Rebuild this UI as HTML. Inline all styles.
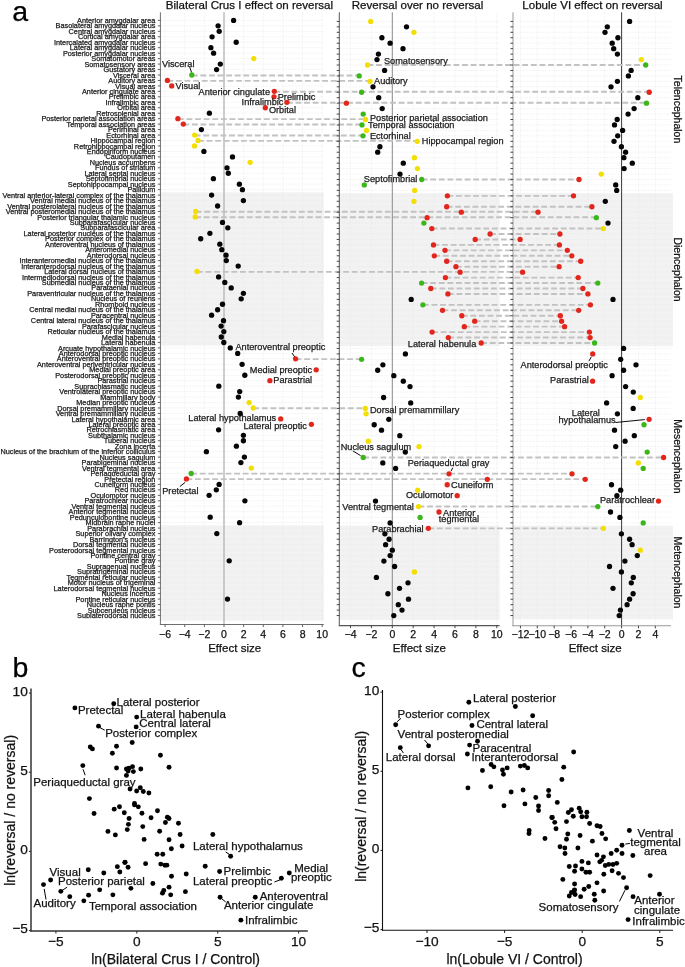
<!DOCTYPE html>
<html><head><meta charset="utf-8"><title>Figure</title>
<style>html,body{margin:0;padding:0;background:#fff;}body{width:685px;height:967px;overflow:hidden;}svg{display:block;will-change:transform;}</style>
</head><body>
<svg width="685" height="967" viewBox="0 0 685 967" font-family='"Liberation Sans", sans-serif'>
<style>text{stroke:currentColor;stroke-width:0.25px;paint-order:stroke;}</style>
<rect x="0" y="0" width="685" height="967" fill="#ffffff"/>
<rect x="160.40" y="192.36" width="163.40" height="153.25" fill="#f2f2f2"/>
<rect x="160.40" y="525.36" width="163.40" height="95.34" fill="#f2f2f2"/>
<line x1="160.40" y1="20.40" x2="323.80" y2="20.40" stroke="#e9e9e9" stroke-width="0.5" stroke-dasharray="2.2 1"/>
<line x1="160.40" y1="25.86" x2="323.80" y2="25.86" stroke="#e9e9e9" stroke-width="0.5" stroke-dasharray="2.2 1"/>
<line x1="160.40" y1="31.32" x2="323.80" y2="31.32" stroke="#e9e9e9" stroke-width="0.5" stroke-dasharray="2.2 1"/>
<line x1="160.40" y1="36.78" x2="323.80" y2="36.78" stroke="#e9e9e9" stroke-width="0.5" stroke-dasharray="2.2 1"/>
<line x1="160.40" y1="42.24" x2="323.80" y2="42.24" stroke="#e9e9e9" stroke-width="0.5" stroke-dasharray="2.2 1"/>
<line x1="160.40" y1="47.69" x2="323.80" y2="47.69" stroke="#e9e9e9" stroke-width="0.5" stroke-dasharray="2.2 1"/>
<line x1="160.40" y1="53.15" x2="323.80" y2="53.15" stroke="#e9e9e9" stroke-width="0.5" stroke-dasharray="2.2 1"/>
<line x1="160.40" y1="58.61" x2="323.80" y2="58.61" stroke="#e9e9e9" stroke-width="0.5" stroke-dasharray="2.2 1"/>
<line x1="160.40" y1="64.07" x2="323.80" y2="64.07" stroke="#e9e9e9" stroke-width="0.5" stroke-dasharray="2.2 1"/>
<line x1="160.40" y1="69.53" x2="323.80" y2="69.53" stroke="#e9e9e9" stroke-width="0.5" stroke-dasharray="2.2 1"/>
<line x1="160.40" y1="74.99" x2="323.80" y2="74.99" stroke="#e9e9e9" stroke-width="0.5" stroke-dasharray="2.2 1"/>
<line x1="160.40" y1="80.45" x2="323.80" y2="80.45" stroke="#e9e9e9" stroke-width="0.5" stroke-dasharray="2.2 1"/>
<line x1="160.40" y1="85.91" x2="323.80" y2="85.91" stroke="#e9e9e9" stroke-width="0.5" stroke-dasharray="2.2 1"/>
<line x1="160.40" y1="91.37" x2="323.80" y2="91.37" stroke="#e9e9e9" stroke-width="0.5" stroke-dasharray="2.2 1"/>
<line x1="160.40" y1="96.83" x2="323.80" y2="96.83" stroke="#e9e9e9" stroke-width="0.5" stroke-dasharray="2.2 1"/>
<line x1="160.40" y1="102.28" x2="323.80" y2="102.28" stroke="#e9e9e9" stroke-width="0.5" stroke-dasharray="2.2 1"/>
<line x1="160.40" y1="107.74" x2="323.80" y2="107.74" stroke="#e9e9e9" stroke-width="0.5" stroke-dasharray="2.2 1"/>
<line x1="160.40" y1="113.20" x2="323.80" y2="113.20" stroke="#e9e9e9" stroke-width="0.5" stroke-dasharray="2.2 1"/>
<line x1="160.40" y1="118.66" x2="323.80" y2="118.66" stroke="#e9e9e9" stroke-width="0.5" stroke-dasharray="2.2 1"/>
<line x1="160.40" y1="124.12" x2="323.80" y2="124.12" stroke="#e9e9e9" stroke-width="0.5" stroke-dasharray="2.2 1"/>
<line x1="160.40" y1="129.58" x2="323.80" y2="129.58" stroke="#e9e9e9" stroke-width="0.5" stroke-dasharray="2.2 1"/>
<line x1="160.40" y1="135.04" x2="323.80" y2="135.04" stroke="#e9e9e9" stroke-width="0.5" stroke-dasharray="2.2 1"/>
<line x1="160.40" y1="140.50" x2="323.80" y2="140.50" stroke="#e9e9e9" stroke-width="0.5" stroke-dasharray="2.2 1"/>
<line x1="160.40" y1="145.96" x2="323.80" y2="145.96" stroke="#e9e9e9" stroke-width="0.5" stroke-dasharray="2.2 1"/>
<line x1="160.40" y1="151.42" x2="323.80" y2="151.42" stroke="#e9e9e9" stroke-width="0.5" stroke-dasharray="2.2 1"/>
<line x1="160.40" y1="156.88" x2="323.80" y2="156.88" stroke="#e9e9e9" stroke-width="0.5" stroke-dasharray="2.2 1"/>
<line x1="160.40" y1="162.33" x2="323.80" y2="162.33" stroke="#e9e9e9" stroke-width="0.5" stroke-dasharray="2.2 1"/>
<line x1="160.40" y1="167.79" x2="323.80" y2="167.79" stroke="#e9e9e9" stroke-width="0.5" stroke-dasharray="2.2 1"/>
<line x1="160.40" y1="173.25" x2="323.80" y2="173.25" stroke="#e9e9e9" stroke-width="0.5" stroke-dasharray="2.2 1"/>
<line x1="160.40" y1="178.71" x2="323.80" y2="178.71" stroke="#e9e9e9" stroke-width="0.5" stroke-dasharray="2.2 1"/>
<line x1="160.40" y1="184.17" x2="323.80" y2="184.17" stroke="#e9e9e9" stroke-width="0.5" stroke-dasharray="2.2 1"/>
<line x1="160.40" y1="189.63" x2="323.80" y2="189.63" stroke="#e9e9e9" stroke-width="0.5" stroke-dasharray="2.2 1"/>
<line x1="160.40" y1="195.09" x2="323.80" y2="195.09" stroke="#e9e9e9" stroke-width="0.5" stroke-dasharray="2.2 1"/>
<line x1="160.40" y1="200.55" x2="323.80" y2="200.55" stroke="#e9e9e9" stroke-width="0.5" stroke-dasharray="2.2 1"/>
<line x1="160.40" y1="206.01" x2="323.80" y2="206.01" stroke="#e9e9e9" stroke-width="0.5" stroke-dasharray="2.2 1"/>
<line x1="160.40" y1="211.47" x2="323.80" y2="211.47" stroke="#e9e9e9" stroke-width="0.5" stroke-dasharray="2.2 1"/>
<line x1="160.40" y1="216.92" x2="323.80" y2="216.92" stroke="#e9e9e9" stroke-width="0.5" stroke-dasharray="2.2 1"/>
<line x1="160.40" y1="222.38" x2="323.80" y2="222.38" stroke="#e9e9e9" stroke-width="0.5" stroke-dasharray="2.2 1"/>
<line x1="160.40" y1="227.84" x2="323.80" y2="227.84" stroke="#e9e9e9" stroke-width="0.5" stroke-dasharray="2.2 1"/>
<line x1="160.40" y1="233.30" x2="323.80" y2="233.30" stroke="#e9e9e9" stroke-width="0.5" stroke-dasharray="2.2 1"/>
<line x1="160.40" y1="238.76" x2="323.80" y2="238.76" stroke="#e9e9e9" stroke-width="0.5" stroke-dasharray="2.2 1"/>
<line x1="160.40" y1="244.22" x2="323.80" y2="244.22" stroke="#e9e9e9" stroke-width="0.5" stroke-dasharray="2.2 1"/>
<line x1="160.40" y1="249.68" x2="323.80" y2="249.68" stroke="#e9e9e9" stroke-width="0.5" stroke-dasharray="2.2 1"/>
<line x1="160.40" y1="255.14" x2="323.80" y2="255.14" stroke="#e9e9e9" stroke-width="0.5" stroke-dasharray="2.2 1"/>
<line x1="160.40" y1="260.60" x2="323.80" y2="260.60" stroke="#e9e9e9" stroke-width="0.5" stroke-dasharray="2.2 1"/>
<line x1="160.40" y1="266.05" x2="323.80" y2="266.05" stroke="#e9e9e9" stroke-width="0.5" stroke-dasharray="2.2 1"/>
<line x1="160.40" y1="271.51" x2="323.80" y2="271.51" stroke="#e9e9e9" stroke-width="0.5" stroke-dasharray="2.2 1"/>
<line x1="160.40" y1="276.97" x2="323.80" y2="276.97" stroke="#e9e9e9" stroke-width="0.5" stroke-dasharray="2.2 1"/>
<line x1="160.40" y1="282.43" x2="323.80" y2="282.43" stroke="#e9e9e9" stroke-width="0.5" stroke-dasharray="2.2 1"/>
<line x1="160.40" y1="287.89" x2="323.80" y2="287.89" stroke="#e9e9e9" stroke-width="0.5" stroke-dasharray="2.2 1"/>
<line x1="160.40" y1="293.35" x2="323.80" y2="293.35" stroke="#e9e9e9" stroke-width="0.5" stroke-dasharray="2.2 1"/>
<line x1="160.40" y1="298.81" x2="323.80" y2="298.81" stroke="#e9e9e9" stroke-width="0.5" stroke-dasharray="2.2 1"/>
<line x1="160.40" y1="304.27" x2="323.80" y2="304.27" stroke="#e9e9e9" stroke-width="0.5" stroke-dasharray="2.2 1"/>
<line x1="160.40" y1="309.73" x2="323.80" y2="309.73" stroke="#e9e9e9" stroke-width="0.5" stroke-dasharray="2.2 1"/>
<line x1="160.40" y1="315.19" x2="323.80" y2="315.19" stroke="#e9e9e9" stroke-width="0.5" stroke-dasharray="2.2 1"/>
<line x1="160.40" y1="320.64" x2="323.80" y2="320.64" stroke="#e9e9e9" stroke-width="0.5" stroke-dasharray="2.2 1"/>
<line x1="160.40" y1="326.10" x2="323.80" y2="326.10" stroke="#e9e9e9" stroke-width="0.5" stroke-dasharray="2.2 1"/>
<line x1="160.40" y1="331.56" x2="323.80" y2="331.56" stroke="#e9e9e9" stroke-width="0.5" stroke-dasharray="2.2 1"/>
<line x1="160.40" y1="337.02" x2="323.80" y2="337.02" stroke="#e9e9e9" stroke-width="0.5" stroke-dasharray="2.2 1"/>
<line x1="160.40" y1="342.48" x2="323.80" y2="342.48" stroke="#e9e9e9" stroke-width="0.5" stroke-dasharray="2.2 1"/>
<line x1="160.40" y1="347.94" x2="323.80" y2="347.94" stroke="#e9e9e9" stroke-width="0.5" stroke-dasharray="2.2 1"/>
<line x1="160.40" y1="353.40" x2="323.80" y2="353.40" stroke="#e9e9e9" stroke-width="0.5" stroke-dasharray="2.2 1"/>
<line x1="160.40" y1="358.86" x2="323.80" y2="358.86" stroke="#e9e9e9" stroke-width="0.5" stroke-dasharray="2.2 1"/>
<line x1="160.40" y1="364.32" x2="323.80" y2="364.32" stroke="#e9e9e9" stroke-width="0.5" stroke-dasharray="2.2 1"/>
<line x1="160.40" y1="369.78" x2="323.80" y2="369.78" stroke="#e9e9e9" stroke-width="0.5" stroke-dasharray="2.2 1"/>
<line x1="160.40" y1="375.23" x2="323.80" y2="375.23" stroke="#e9e9e9" stroke-width="0.5" stroke-dasharray="2.2 1"/>
<line x1="160.40" y1="380.69" x2="323.80" y2="380.69" stroke="#e9e9e9" stroke-width="0.5" stroke-dasharray="2.2 1"/>
<line x1="160.40" y1="386.15" x2="323.80" y2="386.15" stroke="#e9e9e9" stroke-width="0.5" stroke-dasharray="2.2 1"/>
<line x1="160.40" y1="391.61" x2="323.80" y2="391.61" stroke="#e9e9e9" stroke-width="0.5" stroke-dasharray="2.2 1"/>
<line x1="160.40" y1="397.07" x2="323.80" y2="397.07" stroke="#e9e9e9" stroke-width="0.5" stroke-dasharray="2.2 1"/>
<line x1="160.40" y1="402.53" x2="323.80" y2="402.53" stroke="#e9e9e9" stroke-width="0.5" stroke-dasharray="2.2 1"/>
<line x1="160.40" y1="407.99" x2="323.80" y2="407.99" stroke="#e9e9e9" stroke-width="0.5" stroke-dasharray="2.2 1"/>
<line x1="160.40" y1="413.45" x2="323.80" y2="413.45" stroke="#e9e9e9" stroke-width="0.5" stroke-dasharray="2.2 1"/>
<line x1="160.40" y1="418.91" x2="323.80" y2="418.91" stroke="#e9e9e9" stroke-width="0.5" stroke-dasharray="2.2 1"/>
<line x1="160.40" y1="424.37" x2="323.80" y2="424.37" stroke="#e9e9e9" stroke-width="0.5" stroke-dasharray="2.2 1"/>
<line x1="160.40" y1="429.82" x2="323.80" y2="429.82" stroke="#e9e9e9" stroke-width="0.5" stroke-dasharray="2.2 1"/>
<line x1="160.40" y1="435.28" x2="323.80" y2="435.28" stroke="#e9e9e9" stroke-width="0.5" stroke-dasharray="2.2 1"/>
<line x1="160.40" y1="440.74" x2="323.80" y2="440.74" stroke="#e9e9e9" stroke-width="0.5" stroke-dasharray="2.2 1"/>
<line x1="160.40" y1="446.20" x2="323.80" y2="446.20" stroke="#e9e9e9" stroke-width="0.5" stroke-dasharray="2.2 1"/>
<line x1="160.40" y1="451.66" x2="323.80" y2="451.66" stroke="#e9e9e9" stroke-width="0.5" stroke-dasharray="2.2 1"/>
<line x1="160.40" y1="457.12" x2="323.80" y2="457.12" stroke="#e9e9e9" stroke-width="0.5" stroke-dasharray="2.2 1"/>
<line x1="160.40" y1="462.58" x2="323.80" y2="462.58" stroke="#e9e9e9" stroke-width="0.5" stroke-dasharray="2.2 1"/>
<line x1="160.40" y1="468.04" x2="323.80" y2="468.04" stroke="#e9e9e9" stroke-width="0.5" stroke-dasharray="2.2 1"/>
<line x1="160.40" y1="473.50" x2="323.80" y2="473.50" stroke="#e9e9e9" stroke-width="0.5" stroke-dasharray="2.2 1"/>
<line x1="160.40" y1="478.96" x2="323.80" y2="478.96" stroke="#e9e9e9" stroke-width="0.5" stroke-dasharray="2.2 1"/>
<line x1="160.40" y1="484.41" x2="323.80" y2="484.41" stroke="#e9e9e9" stroke-width="0.5" stroke-dasharray="2.2 1"/>
<line x1="160.40" y1="489.87" x2="323.80" y2="489.87" stroke="#e9e9e9" stroke-width="0.5" stroke-dasharray="2.2 1"/>
<line x1="160.40" y1="495.33" x2="323.80" y2="495.33" stroke="#e9e9e9" stroke-width="0.5" stroke-dasharray="2.2 1"/>
<line x1="160.40" y1="500.79" x2="323.80" y2="500.79" stroke="#e9e9e9" stroke-width="0.5" stroke-dasharray="2.2 1"/>
<line x1="160.40" y1="506.25" x2="323.80" y2="506.25" stroke="#e9e9e9" stroke-width="0.5" stroke-dasharray="2.2 1"/>
<line x1="160.40" y1="511.71" x2="323.80" y2="511.71" stroke="#e9e9e9" stroke-width="0.5" stroke-dasharray="2.2 1"/>
<line x1="160.40" y1="517.17" x2="323.80" y2="517.17" stroke="#e9e9e9" stroke-width="0.5" stroke-dasharray="2.2 1"/>
<line x1="160.40" y1="522.63" x2="323.80" y2="522.63" stroke="#e9e9e9" stroke-width="0.5" stroke-dasharray="2.2 1"/>
<line x1="160.40" y1="528.09" x2="323.80" y2="528.09" stroke="#e9e9e9" stroke-width="0.5" stroke-dasharray="2.2 1"/>
<line x1="160.40" y1="533.55" x2="323.80" y2="533.55" stroke="#e9e9e9" stroke-width="0.5" stroke-dasharray="2.2 1"/>
<line x1="160.40" y1="539.00" x2="323.80" y2="539.00" stroke="#e9e9e9" stroke-width="0.5" stroke-dasharray="2.2 1"/>
<line x1="160.40" y1="544.46" x2="323.80" y2="544.46" stroke="#e9e9e9" stroke-width="0.5" stroke-dasharray="2.2 1"/>
<line x1="160.40" y1="549.92" x2="323.80" y2="549.92" stroke="#e9e9e9" stroke-width="0.5" stroke-dasharray="2.2 1"/>
<line x1="160.40" y1="555.38" x2="323.80" y2="555.38" stroke="#e9e9e9" stroke-width="0.5" stroke-dasharray="2.2 1"/>
<line x1="160.40" y1="560.84" x2="323.80" y2="560.84" stroke="#e9e9e9" stroke-width="0.5" stroke-dasharray="2.2 1"/>
<line x1="160.40" y1="566.30" x2="323.80" y2="566.30" stroke="#e9e9e9" stroke-width="0.5" stroke-dasharray="2.2 1"/>
<line x1="160.40" y1="571.76" x2="323.80" y2="571.76" stroke="#e9e9e9" stroke-width="0.5" stroke-dasharray="2.2 1"/>
<line x1="160.40" y1="577.22" x2="323.80" y2="577.22" stroke="#e9e9e9" stroke-width="0.5" stroke-dasharray="2.2 1"/>
<line x1="160.40" y1="582.68" x2="323.80" y2="582.68" stroke="#e9e9e9" stroke-width="0.5" stroke-dasharray="2.2 1"/>
<line x1="160.40" y1="588.14" x2="323.80" y2="588.14" stroke="#e9e9e9" stroke-width="0.5" stroke-dasharray="2.2 1"/>
<line x1="160.40" y1="593.59" x2="323.80" y2="593.59" stroke="#e9e9e9" stroke-width="0.5" stroke-dasharray="2.2 1"/>
<line x1="160.40" y1="599.05" x2="323.80" y2="599.05" stroke="#e9e9e9" stroke-width="0.5" stroke-dasharray="2.2 1"/>
<line x1="160.40" y1="604.51" x2="323.80" y2="604.51" stroke="#e9e9e9" stroke-width="0.5" stroke-dasharray="2.2 1"/>
<line x1="160.40" y1="609.97" x2="323.80" y2="609.97" stroke="#e9e9e9" stroke-width="0.5" stroke-dasharray="2.2 1"/>
<line x1="160.40" y1="615.43" x2="323.80" y2="615.43" stroke="#e9e9e9" stroke-width="0.5" stroke-dasharray="2.2 1"/>
<line x1="165.08" y1="12.30" x2="165.08" y2="624.50" stroke="#e9e9e9" stroke-width="0.5" stroke-dasharray="2.2 1"/>
<line x1="184.72" y1="12.30" x2="184.72" y2="624.50" stroke="#e9e9e9" stroke-width="0.5" stroke-dasharray="2.2 1"/>
<line x1="204.36" y1="12.30" x2="204.36" y2="624.50" stroke="#e9e9e9" stroke-width="0.5" stroke-dasharray="2.2 1"/>
<line x1="224.00" y1="12.30" x2="224.00" y2="624.50" stroke="#e9e9e9" stroke-width="0.5" stroke-dasharray="2.2 1"/>
<line x1="243.64" y1="12.30" x2="243.64" y2="624.50" stroke="#e9e9e9" stroke-width="0.5" stroke-dasharray="2.2 1"/>
<line x1="263.28" y1="12.30" x2="263.28" y2="624.50" stroke="#e9e9e9" stroke-width="0.5" stroke-dasharray="2.2 1"/>
<line x1="282.92" y1="12.30" x2="282.92" y2="624.50" stroke="#e9e9e9" stroke-width="0.5" stroke-dasharray="2.2 1"/>
<line x1="302.56" y1="12.30" x2="302.56" y2="624.50" stroke="#e9e9e9" stroke-width="0.5" stroke-dasharray="2.2 1"/>
<line x1="322.20" y1="12.30" x2="322.20" y2="624.50" stroke="#e9e9e9" stroke-width="0.5" stroke-dasharray="2.2 1"/>
<line x1="224.00" y1="12.30" x2="224.00" y2="624.50" stroke="#b4b4b4" stroke-width="1.3" />
<rect x="339.30" y="193.11" width="160.30" height="153.03" fill="#f2f2f2"/>
<rect x="339.30" y="525.62" width="160.30" height="94.38" fill="#f2f2f2"/>
<line x1="339.30" y1="21.40" x2="499.60" y2="21.40" stroke="#e9e9e9" stroke-width="0.5" stroke-dasharray="2.2 1"/>
<line x1="339.30" y1="26.85" x2="499.60" y2="26.85" stroke="#e9e9e9" stroke-width="0.5" stroke-dasharray="2.2 1"/>
<line x1="339.30" y1="32.30" x2="499.60" y2="32.30" stroke="#e9e9e9" stroke-width="0.5" stroke-dasharray="2.2 1"/>
<line x1="339.30" y1="37.75" x2="499.60" y2="37.75" stroke="#e9e9e9" stroke-width="0.5" stroke-dasharray="2.2 1"/>
<line x1="339.30" y1="43.20" x2="499.60" y2="43.20" stroke="#e9e9e9" stroke-width="0.5" stroke-dasharray="2.2 1"/>
<line x1="339.30" y1="48.66" x2="499.60" y2="48.66" stroke="#e9e9e9" stroke-width="0.5" stroke-dasharray="2.2 1"/>
<line x1="339.30" y1="54.11" x2="499.60" y2="54.11" stroke="#e9e9e9" stroke-width="0.5" stroke-dasharray="2.2 1"/>
<line x1="339.30" y1="59.56" x2="499.60" y2="59.56" stroke="#e9e9e9" stroke-width="0.5" stroke-dasharray="2.2 1"/>
<line x1="339.30" y1="65.01" x2="499.60" y2="65.01" stroke="#e9e9e9" stroke-width="0.5" stroke-dasharray="2.2 1"/>
<line x1="339.30" y1="70.46" x2="499.60" y2="70.46" stroke="#e9e9e9" stroke-width="0.5" stroke-dasharray="2.2 1"/>
<line x1="339.30" y1="75.91" x2="499.60" y2="75.91" stroke="#e9e9e9" stroke-width="0.5" stroke-dasharray="2.2 1"/>
<line x1="339.30" y1="81.36" x2="499.60" y2="81.36" stroke="#e9e9e9" stroke-width="0.5" stroke-dasharray="2.2 1"/>
<line x1="339.30" y1="86.81" x2="499.60" y2="86.81" stroke="#e9e9e9" stroke-width="0.5" stroke-dasharray="2.2 1"/>
<line x1="339.30" y1="92.26" x2="499.60" y2="92.26" stroke="#e9e9e9" stroke-width="0.5" stroke-dasharray="2.2 1"/>
<line x1="339.30" y1="97.71" x2="499.60" y2="97.71" stroke="#e9e9e9" stroke-width="0.5" stroke-dasharray="2.2 1"/>
<line x1="339.30" y1="103.16" x2="499.60" y2="103.16" stroke="#e9e9e9" stroke-width="0.5" stroke-dasharray="2.2 1"/>
<line x1="339.30" y1="108.62" x2="499.60" y2="108.62" stroke="#e9e9e9" stroke-width="0.5" stroke-dasharray="2.2 1"/>
<line x1="339.30" y1="114.07" x2="499.60" y2="114.07" stroke="#e9e9e9" stroke-width="0.5" stroke-dasharray="2.2 1"/>
<line x1="339.30" y1="119.52" x2="499.60" y2="119.52" stroke="#e9e9e9" stroke-width="0.5" stroke-dasharray="2.2 1"/>
<line x1="339.30" y1="124.97" x2="499.60" y2="124.97" stroke="#e9e9e9" stroke-width="0.5" stroke-dasharray="2.2 1"/>
<line x1="339.30" y1="130.42" x2="499.60" y2="130.42" stroke="#e9e9e9" stroke-width="0.5" stroke-dasharray="2.2 1"/>
<line x1="339.30" y1="135.87" x2="499.60" y2="135.87" stroke="#e9e9e9" stroke-width="0.5" stroke-dasharray="2.2 1"/>
<line x1="339.30" y1="141.32" x2="499.60" y2="141.32" stroke="#e9e9e9" stroke-width="0.5" stroke-dasharray="2.2 1"/>
<line x1="339.30" y1="146.77" x2="499.60" y2="146.77" stroke="#e9e9e9" stroke-width="0.5" stroke-dasharray="2.2 1"/>
<line x1="339.30" y1="152.22" x2="499.60" y2="152.22" stroke="#e9e9e9" stroke-width="0.5" stroke-dasharray="2.2 1"/>
<line x1="339.30" y1="157.67" x2="499.60" y2="157.67" stroke="#e9e9e9" stroke-width="0.5" stroke-dasharray="2.2 1"/>
<line x1="339.30" y1="163.13" x2="499.60" y2="163.13" stroke="#e9e9e9" stroke-width="0.5" stroke-dasharray="2.2 1"/>
<line x1="339.30" y1="168.58" x2="499.60" y2="168.58" stroke="#e9e9e9" stroke-width="0.5" stroke-dasharray="2.2 1"/>
<line x1="339.30" y1="174.03" x2="499.60" y2="174.03" stroke="#e9e9e9" stroke-width="0.5" stroke-dasharray="2.2 1"/>
<line x1="339.30" y1="179.48" x2="499.60" y2="179.48" stroke="#e9e9e9" stroke-width="0.5" stroke-dasharray="2.2 1"/>
<line x1="339.30" y1="184.93" x2="499.60" y2="184.93" stroke="#e9e9e9" stroke-width="0.5" stroke-dasharray="2.2 1"/>
<line x1="339.30" y1="190.38" x2="499.60" y2="190.38" stroke="#e9e9e9" stroke-width="0.5" stroke-dasharray="2.2 1"/>
<line x1="339.30" y1="195.83" x2="499.60" y2="195.83" stroke="#e9e9e9" stroke-width="0.5" stroke-dasharray="2.2 1"/>
<line x1="339.30" y1="201.28" x2="499.60" y2="201.28" stroke="#e9e9e9" stroke-width="0.5" stroke-dasharray="2.2 1"/>
<line x1="339.30" y1="206.73" x2="499.60" y2="206.73" stroke="#e9e9e9" stroke-width="0.5" stroke-dasharray="2.2 1"/>
<line x1="339.30" y1="212.19" x2="499.60" y2="212.19" stroke="#e9e9e9" stroke-width="0.5" stroke-dasharray="2.2 1"/>
<line x1="339.30" y1="217.64" x2="499.60" y2="217.64" stroke="#e9e9e9" stroke-width="0.5" stroke-dasharray="2.2 1"/>
<line x1="339.30" y1="223.09" x2="499.60" y2="223.09" stroke="#e9e9e9" stroke-width="0.5" stroke-dasharray="2.2 1"/>
<line x1="339.30" y1="228.54" x2="499.60" y2="228.54" stroke="#e9e9e9" stroke-width="0.5" stroke-dasharray="2.2 1"/>
<line x1="339.30" y1="233.99" x2="499.60" y2="233.99" stroke="#e9e9e9" stroke-width="0.5" stroke-dasharray="2.2 1"/>
<line x1="339.30" y1="239.44" x2="499.60" y2="239.44" stroke="#e9e9e9" stroke-width="0.5" stroke-dasharray="2.2 1"/>
<line x1="339.30" y1="244.89" x2="499.60" y2="244.89" stroke="#e9e9e9" stroke-width="0.5" stroke-dasharray="2.2 1"/>
<line x1="339.30" y1="250.34" x2="499.60" y2="250.34" stroke="#e9e9e9" stroke-width="0.5" stroke-dasharray="2.2 1"/>
<line x1="339.30" y1="255.79" x2="499.60" y2="255.79" stroke="#e9e9e9" stroke-width="0.5" stroke-dasharray="2.2 1"/>
<line x1="339.30" y1="261.24" x2="499.60" y2="261.24" stroke="#e9e9e9" stroke-width="0.5" stroke-dasharray="2.2 1"/>
<line x1="339.30" y1="266.69" x2="499.60" y2="266.69" stroke="#e9e9e9" stroke-width="0.5" stroke-dasharray="2.2 1"/>
<line x1="339.30" y1="272.15" x2="499.60" y2="272.15" stroke="#e9e9e9" stroke-width="0.5" stroke-dasharray="2.2 1"/>
<line x1="339.30" y1="277.60" x2="499.60" y2="277.60" stroke="#e9e9e9" stroke-width="0.5" stroke-dasharray="2.2 1"/>
<line x1="339.30" y1="283.05" x2="499.60" y2="283.05" stroke="#e9e9e9" stroke-width="0.5" stroke-dasharray="2.2 1"/>
<line x1="339.30" y1="288.50" x2="499.60" y2="288.50" stroke="#e9e9e9" stroke-width="0.5" stroke-dasharray="2.2 1"/>
<line x1="339.30" y1="293.95" x2="499.60" y2="293.95" stroke="#e9e9e9" stroke-width="0.5" stroke-dasharray="2.2 1"/>
<line x1="339.30" y1="299.40" x2="499.60" y2="299.40" stroke="#e9e9e9" stroke-width="0.5" stroke-dasharray="2.2 1"/>
<line x1="339.30" y1="304.85" x2="499.60" y2="304.85" stroke="#e9e9e9" stroke-width="0.5" stroke-dasharray="2.2 1"/>
<line x1="339.30" y1="310.30" x2="499.60" y2="310.30" stroke="#e9e9e9" stroke-width="0.5" stroke-dasharray="2.2 1"/>
<line x1="339.30" y1="315.75" x2="499.60" y2="315.75" stroke="#e9e9e9" stroke-width="0.5" stroke-dasharray="2.2 1"/>
<line x1="339.30" y1="321.20" x2="499.60" y2="321.20" stroke="#e9e9e9" stroke-width="0.5" stroke-dasharray="2.2 1"/>
<line x1="339.30" y1="326.66" x2="499.60" y2="326.66" stroke="#e9e9e9" stroke-width="0.5" stroke-dasharray="2.2 1"/>
<line x1="339.30" y1="332.11" x2="499.60" y2="332.11" stroke="#e9e9e9" stroke-width="0.5" stroke-dasharray="2.2 1"/>
<line x1="339.30" y1="337.56" x2="499.60" y2="337.56" stroke="#e9e9e9" stroke-width="0.5" stroke-dasharray="2.2 1"/>
<line x1="339.30" y1="343.01" x2="499.60" y2="343.01" stroke="#e9e9e9" stroke-width="0.5" stroke-dasharray="2.2 1"/>
<line x1="339.30" y1="348.46" x2="499.60" y2="348.46" stroke="#e9e9e9" stroke-width="0.5" stroke-dasharray="2.2 1"/>
<line x1="339.30" y1="353.91" x2="499.60" y2="353.91" stroke="#e9e9e9" stroke-width="0.5" stroke-dasharray="2.2 1"/>
<line x1="339.30" y1="359.36" x2="499.60" y2="359.36" stroke="#e9e9e9" stroke-width="0.5" stroke-dasharray="2.2 1"/>
<line x1="339.30" y1="364.81" x2="499.60" y2="364.81" stroke="#e9e9e9" stroke-width="0.5" stroke-dasharray="2.2 1"/>
<line x1="339.30" y1="370.26" x2="499.60" y2="370.26" stroke="#e9e9e9" stroke-width="0.5" stroke-dasharray="2.2 1"/>
<line x1="339.30" y1="375.71" x2="499.60" y2="375.71" stroke="#e9e9e9" stroke-width="0.5" stroke-dasharray="2.2 1"/>
<line x1="339.30" y1="381.17" x2="499.60" y2="381.17" stroke="#e9e9e9" stroke-width="0.5" stroke-dasharray="2.2 1"/>
<line x1="339.30" y1="386.62" x2="499.60" y2="386.62" stroke="#e9e9e9" stroke-width="0.5" stroke-dasharray="2.2 1"/>
<line x1="339.30" y1="392.07" x2="499.60" y2="392.07" stroke="#e9e9e9" stroke-width="0.5" stroke-dasharray="2.2 1"/>
<line x1="339.30" y1="397.52" x2="499.60" y2="397.52" stroke="#e9e9e9" stroke-width="0.5" stroke-dasharray="2.2 1"/>
<line x1="339.30" y1="402.97" x2="499.60" y2="402.97" stroke="#e9e9e9" stroke-width="0.5" stroke-dasharray="2.2 1"/>
<line x1="339.30" y1="408.42" x2="499.60" y2="408.42" stroke="#e9e9e9" stroke-width="0.5" stroke-dasharray="2.2 1"/>
<line x1="339.30" y1="413.87" x2="499.60" y2="413.87" stroke="#e9e9e9" stroke-width="0.5" stroke-dasharray="2.2 1"/>
<line x1="339.30" y1="419.32" x2="499.60" y2="419.32" stroke="#e9e9e9" stroke-width="0.5" stroke-dasharray="2.2 1"/>
<line x1="339.30" y1="424.77" x2="499.60" y2="424.77" stroke="#e9e9e9" stroke-width="0.5" stroke-dasharray="2.2 1"/>
<line x1="339.30" y1="430.22" x2="499.60" y2="430.22" stroke="#e9e9e9" stroke-width="0.5" stroke-dasharray="2.2 1"/>
<line x1="339.30" y1="435.68" x2="499.60" y2="435.68" stroke="#e9e9e9" stroke-width="0.5" stroke-dasharray="2.2 1"/>
<line x1="339.30" y1="441.13" x2="499.60" y2="441.13" stroke="#e9e9e9" stroke-width="0.5" stroke-dasharray="2.2 1"/>
<line x1="339.30" y1="446.58" x2="499.60" y2="446.58" stroke="#e9e9e9" stroke-width="0.5" stroke-dasharray="2.2 1"/>
<line x1="339.30" y1="452.03" x2="499.60" y2="452.03" stroke="#e9e9e9" stroke-width="0.5" stroke-dasharray="2.2 1"/>
<line x1="339.30" y1="457.48" x2="499.60" y2="457.48" stroke="#e9e9e9" stroke-width="0.5" stroke-dasharray="2.2 1"/>
<line x1="339.30" y1="462.93" x2="499.60" y2="462.93" stroke="#e9e9e9" stroke-width="0.5" stroke-dasharray="2.2 1"/>
<line x1="339.30" y1="468.38" x2="499.60" y2="468.38" stroke="#e9e9e9" stroke-width="0.5" stroke-dasharray="2.2 1"/>
<line x1="339.30" y1="473.83" x2="499.60" y2="473.83" stroke="#e9e9e9" stroke-width="0.5" stroke-dasharray="2.2 1"/>
<line x1="339.30" y1="479.28" x2="499.60" y2="479.28" stroke="#e9e9e9" stroke-width="0.5" stroke-dasharray="2.2 1"/>
<line x1="339.30" y1="484.73" x2="499.60" y2="484.73" stroke="#e9e9e9" stroke-width="0.5" stroke-dasharray="2.2 1"/>
<line x1="339.30" y1="490.19" x2="499.60" y2="490.19" stroke="#e9e9e9" stroke-width="0.5" stroke-dasharray="2.2 1"/>
<line x1="339.30" y1="495.64" x2="499.60" y2="495.64" stroke="#e9e9e9" stroke-width="0.5" stroke-dasharray="2.2 1"/>
<line x1="339.30" y1="501.09" x2="499.60" y2="501.09" stroke="#e9e9e9" stroke-width="0.5" stroke-dasharray="2.2 1"/>
<line x1="339.30" y1="506.54" x2="499.60" y2="506.54" stroke="#e9e9e9" stroke-width="0.5" stroke-dasharray="2.2 1"/>
<line x1="339.30" y1="511.99" x2="499.60" y2="511.99" stroke="#e9e9e9" stroke-width="0.5" stroke-dasharray="2.2 1"/>
<line x1="339.30" y1="517.44" x2="499.60" y2="517.44" stroke="#e9e9e9" stroke-width="0.5" stroke-dasharray="2.2 1"/>
<line x1="339.30" y1="522.89" x2="499.60" y2="522.89" stroke="#e9e9e9" stroke-width="0.5" stroke-dasharray="2.2 1"/>
<line x1="339.30" y1="528.34" x2="499.60" y2="528.34" stroke="#e9e9e9" stroke-width="0.5" stroke-dasharray="2.2 1"/>
<line x1="339.30" y1="533.79" x2="499.60" y2="533.79" stroke="#e9e9e9" stroke-width="0.5" stroke-dasharray="2.2 1"/>
<line x1="339.30" y1="539.24" x2="499.60" y2="539.24" stroke="#e9e9e9" stroke-width="0.5" stroke-dasharray="2.2 1"/>
<line x1="339.30" y1="544.70" x2="499.60" y2="544.70" stroke="#e9e9e9" stroke-width="0.5" stroke-dasharray="2.2 1"/>
<line x1="339.30" y1="550.15" x2="499.60" y2="550.15" stroke="#e9e9e9" stroke-width="0.5" stroke-dasharray="2.2 1"/>
<line x1="339.30" y1="555.60" x2="499.60" y2="555.60" stroke="#e9e9e9" stroke-width="0.5" stroke-dasharray="2.2 1"/>
<line x1="339.30" y1="561.05" x2="499.60" y2="561.05" stroke="#e9e9e9" stroke-width="0.5" stroke-dasharray="2.2 1"/>
<line x1="339.30" y1="566.50" x2="499.60" y2="566.50" stroke="#e9e9e9" stroke-width="0.5" stroke-dasharray="2.2 1"/>
<line x1="339.30" y1="571.95" x2="499.60" y2="571.95" stroke="#e9e9e9" stroke-width="0.5" stroke-dasharray="2.2 1"/>
<line x1="339.30" y1="577.40" x2="499.60" y2="577.40" stroke="#e9e9e9" stroke-width="0.5" stroke-dasharray="2.2 1"/>
<line x1="339.30" y1="582.85" x2="499.60" y2="582.85" stroke="#e9e9e9" stroke-width="0.5" stroke-dasharray="2.2 1"/>
<line x1="339.30" y1="588.30" x2="499.60" y2="588.30" stroke="#e9e9e9" stroke-width="0.5" stroke-dasharray="2.2 1"/>
<line x1="339.30" y1="593.75" x2="499.60" y2="593.75" stroke="#e9e9e9" stroke-width="0.5" stroke-dasharray="2.2 1"/>
<line x1="339.30" y1="599.21" x2="499.60" y2="599.21" stroke="#e9e9e9" stroke-width="0.5" stroke-dasharray="2.2 1"/>
<line x1="339.30" y1="604.66" x2="499.60" y2="604.66" stroke="#e9e9e9" stroke-width="0.5" stroke-dasharray="2.2 1"/>
<line x1="339.30" y1="610.11" x2="499.60" y2="610.11" stroke="#e9e9e9" stroke-width="0.5" stroke-dasharray="2.2 1"/>
<line x1="339.30" y1="615.56" x2="499.60" y2="615.56" stroke="#e9e9e9" stroke-width="0.5" stroke-dasharray="2.2 1"/>
<line x1="350.50" y1="12.30" x2="350.50" y2="625.60" stroke="#e9e9e9" stroke-width="0.5" stroke-dasharray="2.2 1"/>
<line x1="371.40" y1="12.30" x2="371.40" y2="625.60" stroke="#e9e9e9" stroke-width="0.5" stroke-dasharray="2.2 1"/>
<line x1="392.30" y1="12.30" x2="392.30" y2="625.60" stroke="#e9e9e9" stroke-width="0.5" stroke-dasharray="2.2 1"/>
<line x1="413.20" y1="12.30" x2="413.20" y2="625.60" stroke="#e9e9e9" stroke-width="0.5" stroke-dasharray="2.2 1"/>
<line x1="434.10" y1="12.30" x2="434.10" y2="625.60" stroke="#e9e9e9" stroke-width="0.5" stroke-dasharray="2.2 1"/>
<line x1="455.00" y1="12.30" x2="455.00" y2="625.60" stroke="#e9e9e9" stroke-width="0.5" stroke-dasharray="2.2 1"/>
<line x1="475.90" y1="12.30" x2="475.90" y2="625.60" stroke="#e9e9e9" stroke-width="0.5" stroke-dasharray="2.2 1"/>
<line x1="496.80" y1="12.30" x2="496.80" y2="625.60" stroke="#e9e9e9" stroke-width="0.5" stroke-dasharray="2.2 1"/>
<line x1="392.30" y1="12.30" x2="392.30" y2="625.60" stroke="#8a8a8a" stroke-width="1.0" />
<rect x="513.00" y="193.11" width="160.00" height="153.03" fill="#f2f2f2"/>
<rect x="513.00" y="525.62" width="160.00" height="93.78" fill="#f2f2f2"/>
<line x1="513.00" y1="21.40" x2="671.00" y2="21.40" stroke="#e9e9e9" stroke-width="0.5" stroke-dasharray="2.2 1"/>
<line x1="513.00" y1="26.85" x2="671.00" y2="26.85" stroke="#e9e9e9" stroke-width="0.5" stroke-dasharray="2.2 1"/>
<line x1="513.00" y1="32.30" x2="671.00" y2="32.30" stroke="#e9e9e9" stroke-width="0.5" stroke-dasharray="2.2 1"/>
<line x1="513.00" y1="37.75" x2="671.00" y2="37.75" stroke="#e9e9e9" stroke-width="0.5" stroke-dasharray="2.2 1"/>
<line x1="513.00" y1="43.20" x2="671.00" y2="43.20" stroke="#e9e9e9" stroke-width="0.5" stroke-dasharray="2.2 1"/>
<line x1="513.00" y1="48.66" x2="671.00" y2="48.66" stroke="#e9e9e9" stroke-width="0.5" stroke-dasharray="2.2 1"/>
<line x1="513.00" y1="54.11" x2="671.00" y2="54.11" stroke="#e9e9e9" stroke-width="0.5" stroke-dasharray="2.2 1"/>
<line x1="513.00" y1="59.56" x2="671.00" y2="59.56" stroke="#e9e9e9" stroke-width="0.5" stroke-dasharray="2.2 1"/>
<line x1="513.00" y1="65.01" x2="671.00" y2="65.01" stroke="#e9e9e9" stroke-width="0.5" stroke-dasharray="2.2 1"/>
<line x1="513.00" y1="70.46" x2="671.00" y2="70.46" stroke="#e9e9e9" stroke-width="0.5" stroke-dasharray="2.2 1"/>
<line x1="513.00" y1="75.91" x2="671.00" y2="75.91" stroke="#e9e9e9" stroke-width="0.5" stroke-dasharray="2.2 1"/>
<line x1="513.00" y1="81.36" x2="671.00" y2="81.36" stroke="#e9e9e9" stroke-width="0.5" stroke-dasharray="2.2 1"/>
<line x1="513.00" y1="86.81" x2="671.00" y2="86.81" stroke="#e9e9e9" stroke-width="0.5" stroke-dasharray="2.2 1"/>
<line x1="513.00" y1="92.26" x2="671.00" y2="92.26" stroke="#e9e9e9" stroke-width="0.5" stroke-dasharray="2.2 1"/>
<line x1="513.00" y1="97.71" x2="671.00" y2="97.71" stroke="#e9e9e9" stroke-width="0.5" stroke-dasharray="2.2 1"/>
<line x1="513.00" y1="103.16" x2="671.00" y2="103.16" stroke="#e9e9e9" stroke-width="0.5" stroke-dasharray="2.2 1"/>
<line x1="513.00" y1="108.62" x2="671.00" y2="108.62" stroke="#e9e9e9" stroke-width="0.5" stroke-dasharray="2.2 1"/>
<line x1="513.00" y1="114.07" x2="671.00" y2="114.07" stroke="#e9e9e9" stroke-width="0.5" stroke-dasharray="2.2 1"/>
<line x1="513.00" y1="119.52" x2="671.00" y2="119.52" stroke="#e9e9e9" stroke-width="0.5" stroke-dasharray="2.2 1"/>
<line x1="513.00" y1="124.97" x2="671.00" y2="124.97" stroke="#e9e9e9" stroke-width="0.5" stroke-dasharray="2.2 1"/>
<line x1="513.00" y1="130.42" x2="671.00" y2="130.42" stroke="#e9e9e9" stroke-width="0.5" stroke-dasharray="2.2 1"/>
<line x1="513.00" y1="135.87" x2="671.00" y2="135.87" stroke="#e9e9e9" stroke-width="0.5" stroke-dasharray="2.2 1"/>
<line x1="513.00" y1="141.32" x2="671.00" y2="141.32" stroke="#e9e9e9" stroke-width="0.5" stroke-dasharray="2.2 1"/>
<line x1="513.00" y1="146.77" x2="671.00" y2="146.77" stroke="#e9e9e9" stroke-width="0.5" stroke-dasharray="2.2 1"/>
<line x1="513.00" y1="152.22" x2="671.00" y2="152.22" stroke="#e9e9e9" stroke-width="0.5" stroke-dasharray="2.2 1"/>
<line x1="513.00" y1="157.67" x2="671.00" y2="157.67" stroke="#e9e9e9" stroke-width="0.5" stroke-dasharray="2.2 1"/>
<line x1="513.00" y1="163.13" x2="671.00" y2="163.13" stroke="#e9e9e9" stroke-width="0.5" stroke-dasharray="2.2 1"/>
<line x1="513.00" y1="168.58" x2="671.00" y2="168.58" stroke="#e9e9e9" stroke-width="0.5" stroke-dasharray="2.2 1"/>
<line x1="513.00" y1="174.03" x2="671.00" y2="174.03" stroke="#e9e9e9" stroke-width="0.5" stroke-dasharray="2.2 1"/>
<line x1="513.00" y1="179.48" x2="671.00" y2="179.48" stroke="#e9e9e9" stroke-width="0.5" stroke-dasharray="2.2 1"/>
<line x1="513.00" y1="184.93" x2="671.00" y2="184.93" stroke="#e9e9e9" stroke-width="0.5" stroke-dasharray="2.2 1"/>
<line x1="513.00" y1="190.38" x2="671.00" y2="190.38" stroke="#e9e9e9" stroke-width="0.5" stroke-dasharray="2.2 1"/>
<line x1="513.00" y1="195.83" x2="671.00" y2="195.83" stroke="#e9e9e9" stroke-width="0.5" stroke-dasharray="2.2 1"/>
<line x1="513.00" y1="201.28" x2="671.00" y2="201.28" stroke="#e9e9e9" stroke-width="0.5" stroke-dasharray="2.2 1"/>
<line x1="513.00" y1="206.73" x2="671.00" y2="206.73" stroke="#e9e9e9" stroke-width="0.5" stroke-dasharray="2.2 1"/>
<line x1="513.00" y1="212.19" x2="671.00" y2="212.19" stroke="#e9e9e9" stroke-width="0.5" stroke-dasharray="2.2 1"/>
<line x1="513.00" y1="217.64" x2="671.00" y2="217.64" stroke="#e9e9e9" stroke-width="0.5" stroke-dasharray="2.2 1"/>
<line x1="513.00" y1="223.09" x2="671.00" y2="223.09" stroke="#e9e9e9" stroke-width="0.5" stroke-dasharray="2.2 1"/>
<line x1="513.00" y1="228.54" x2="671.00" y2="228.54" stroke="#e9e9e9" stroke-width="0.5" stroke-dasharray="2.2 1"/>
<line x1="513.00" y1="233.99" x2="671.00" y2="233.99" stroke="#e9e9e9" stroke-width="0.5" stroke-dasharray="2.2 1"/>
<line x1="513.00" y1="239.44" x2="671.00" y2="239.44" stroke="#e9e9e9" stroke-width="0.5" stroke-dasharray="2.2 1"/>
<line x1="513.00" y1="244.89" x2="671.00" y2="244.89" stroke="#e9e9e9" stroke-width="0.5" stroke-dasharray="2.2 1"/>
<line x1="513.00" y1="250.34" x2="671.00" y2="250.34" stroke="#e9e9e9" stroke-width="0.5" stroke-dasharray="2.2 1"/>
<line x1="513.00" y1="255.79" x2="671.00" y2="255.79" stroke="#e9e9e9" stroke-width="0.5" stroke-dasharray="2.2 1"/>
<line x1="513.00" y1="261.24" x2="671.00" y2="261.24" stroke="#e9e9e9" stroke-width="0.5" stroke-dasharray="2.2 1"/>
<line x1="513.00" y1="266.69" x2="671.00" y2="266.69" stroke="#e9e9e9" stroke-width="0.5" stroke-dasharray="2.2 1"/>
<line x1="513.00" y1="272.15" x2="671.00" y2="272.15" stroke="#e9e9e9" stroke-width="0.5" stroke-dasharray="2.2 1"/>
<line x1="513.00" y1="277.60" x2="671.00" y2="277.60" stroke="#e9e9e9" stroke-width="0.5" stroke-dasharray="2.2 1"/>
<line x1="513.00" y1="283.05" x2="671.00" y2="283.05" stroke="#e9e9e9" stroke-width="0.5" stroke-dasharray="2.2 1"/>
<line x1="513.00" y1="288.50" x2="671.00" y2="288.50" stroke="#e9e9e9" stroke-width="0.5" stroke-dasharray="2.2 1"/>
<line x1="513.00" y1="293.95" x2="671.00" y2="293.95" stroke="#e9e9e9" stroke-width="0.5" stroke-dasharray="2.2 1"/>
<line x1="513.00" y1="299.40" x2="671.00" y2="299.40" stroke="#e9e9e9" stroke-width="0.5" stroke-dasharray="2.2 1"/>
<line x1="513.00" y1="304.85" x2="671.00" y2="304.85" stroke="#e9e9e9" stroke-width="0.5" stroke-dasharray="2.2 1"/>
<line x1="513.00" y1="310.30" x2="671.00" y2="310.30" stroke="#e9e9e9" stroke-width="0.5" stroke-dasharray="2.2 1"/>
<line x1="513.00" y1="315.75" x2="671.00" y2="315.75" stroke="#e9e9e9" stroke-width="0.5" stroke-dasharray="2.2 1"/>
<line x1="513.00" y1="321.20" x2="671.00" y2="321.20" stroke="#e9e9e9" stroke-width="0.5" stroke-dasharray="2.2 1"/>
<line x1="513.00" y1="326.66" x2="671.00" y2="326.66" stroke="#e9e9e9" stroke-width="0.5" stroke-dasharray="2.2 1"/>
<line x1="513.00" y1="332.11" x2="671.00" y2="332.11" stroke="#e9e9e9" stroke-width="0.5" stroke-dasharray="2.2 1"/>
<line x1="513.00" y1="337.56" x2="671.00" y2="337.56" stroke="#e9e9e9" stroke-width="0.5" stroke-dasharray="2.2 1"/>
<line x1="513.00" y1="343.01" x2="671.00" y2="343.01" stroke="#e9e9e9" stroke-width="0.5" stroke-dasharray="2.2 1"/>
<line x1="513.00" y1="348.46" x2="671.00" y2="348.46" stroke="#e9e9e9" stroke-width="0.5" stroke-dasharray="2.2 1"/>
<line x1="513.00" y1="353.91" x2="671.00" y2="353.91" stroke="#e9e9e9" stroke-width="0.5" stroke-dasharray="2.2 1"/>
<line x1="513.00" y1="359.36" x2="671.00" y2="359.36" stroke="#e9e9e9" stroke-width="0.5" stroke-dasharray="2.2 1"/>
<line x1="513.00" y1="364.81" x2="671.00" y2="364.81" stroke="#e9e9e9" stroke-width="0.5" stroke-dasharray="2.2 1"/>
<line x1="513.00" y1="370.26" x2="671.00" y2="370.26" stroke="#e9e9e9" stroke-width="0.5" stroke-dasharray="2.2 1"/>
<line x1="513.00" y1="375.71" x2="671.00" y2="375.71" stroke="#e9e9e9" stroke-width="0.5" stroke-dasharray="2.2 1"/>
<line x1="513.00" y1="381.17" x2="671.00" y2="381.17" stroke="#e9e9e9" stroke-width="0.5" stroke-dasharray="2.2 1"/>
<line x1="513.00" y1="386.62" x2="671.00" y2="386.62" stroke="#e9e9e9" stroke-width="0.5" stroke-dasharray="2.2 1"/>
<line x1="513.00" y1="392.07" x2="671.00" y2="392.07" stroke="#e9e9e9" stroke-width="0.5" stroke-dasharray="2.2 1"/>
<line x1="513.00" y1="397.52" x2="671.00" y2="397.52" stroke="#e9e9e9" stroke-width="0.5" stroke-dasharray="2.2 1"/>
<line x1="513.00" y1="402.97" x2="671.00" y2="402.97" stroke="#e9e9e9" stroke-width="0.5" stroke-dasharray="2.2 1"/>
<line x1="513.00" y1="408.42" x2="671.00" y2="408.42" stroke="#e9e9e9" stroke-width="0.5" stroke-dasharray="2.2 1"/>
<line x1="513.00" y1="413.87" x2="671.00" y2="413.87" stroke="#e9e9e9" stroke-width="0.5" stroke-dasharray="2.2 1"/>
<line x1="513.00" y1="419.32" x2="671.00" y2="419.32" stroke="#e9e9e9" stroke-width="0.5" stroke-dasharray="2.2 1"/>
<line x1="513.00" y1="424.77" x2="671.00" y2="424.77" stroke="#e9e9e9" stroke-width="0.5" stroke-dasharray="2.2 1"/>
<line x1="513.00" y1="430.22" x2="671.00" y2="430.22" stroke="#e9e9e9" stroke-width="0.5" stroke-dasharray="2.2 1"/>
<line x1="513.00" y1="435.68" x2="671.00" y2="435.68" stroke="#e9e9e9" stroke-width="0.5" stroke-dasharray="2.2 1"/>
<line x1="513.00" y1="441.13" x2="671.00" y2="441.13" stroke="#e9e9e9" stroke-width="0.5" stroke-dasharray="2.2 1"/>
<line x1="513.00" y1="446.58" x2="671.00" y2="446.58" stroke="#e9e9e9" stroke-width="0.5" stroke-dasharray="2.2 1"/>
<line x1="513.00" y1="452.03" x2="671.00" y2="452.03" stroke="#e9e9e9" stroke-width="0.5" stroke-dasharray="2.2 1"/>
<line x1="513.00" y1="457.48" x2="671.00" y2="457.48" stroke="#e9e9e9" stroke-width="0.5" stroke-dasharray="2.2 1"/>
<line x1="513.00" y1="462.93" x2="671.00" y2="462.93" stroke="#e9e9e9" stroke-width="0.5" stroke-dasharray="2.2 1"/>
<line x1="513.00" y1="468.38" x2="671.00" y2="468.38" stroke="#e9e9e9" stroke-width="0.5" stroke-dasharray="2.2 1"/>
<line x1="513.00" y1="473.83" x2="671.00" y2="473.83" stroke="#e9e9e9" stroke-width="0.5" stroke-dasharray="2.2 1"/>
<line x1="513.00" y1="479.28" x2="671.00" y2="479.28" stroke="#e9e9e9" stroke-width="0.5" stroke-dasharray="2.2 1"/>
<line x1="513.00" y1="484.73" x2="671.00" y2="484.73" stroke="#e9e9e9" stroke-width="0.5" stroke-dasharray="2.2 1"/>
<line x1="513.00" y1="490.19" x2="671.00" y2="490.19" stroke="#e9e9e9" stroke-width="0.5" stroke-dasharray="2.2 1"/>
<line x1="513.00" y1="495.64" x2="671.00" y2="495.64" stroke="#e9e9e9" stroke-width="0.5" stroke-dasharray="2.2 1"/>
<line x1="513.00" y1="501.09" x2="671.00" y2="501.09" stroke="#e9e9e9" stroke-width="0.5" stroke-dasharray="2.2 1"/>
<line x1="513.00" y1="506.54" x2="671.00" y2="506.54" stroke="#e9e9e9" stroke-width="0.5" stroke-dasharray="2.2 1"/>
<line x1="513.00" y1="511.99" x2="671.00" y2="511.99" stroke="#e9e9e9" stroke-width="0.5" stroke-dasharray="2.2 1"/>
<line x1="513.00" y1="517.44" x2="671.00" y2="517.44" stroke="#e9e9e9" stroke-width="0.5" stroke-dasharray="2.2 1"/>
<line x1="513.00" y1="522.89" x2="671.00" y2="522.89" stroke="#e9e9e9" stroke-width="0.5" stroke-dasharray="2.2 1"/>
<line x1="513.00" y1="528.34" x2="671.00" y2="528.34" stroke="#e9e9e9" stroke-width="0.5" stroke-dasharray="2.2 1"/>
<line x1="513.00" y1="533.79" x2="671.00" y2="533.79" stroke="#e9e9e9" stroke-width="0.5" stroke-dasharray="2.2 1"/>
<line x1="513.00" y1="539.24" x2="671.00" y2="539.24" stroke="#e9e9e9" stroke-width="0.5" stroke-dasharray="2.2 1"/>
<line x1="513.00" y1="544.70" x2="671.00" y2="544.70" stroke="#e9e9e9" stroke-width="0.5" stroke-dasharray="2.2 1"/>
<line x1="513.00" y1="550.15" x2="671.00" y2="550.15" stroke="#e9e9e9" stroke-width="0.5" stroke-dasharray="2.2 1"/>
<line x1="513.00" y1="555.60" x2="671.00" y2="555.60" stroke="#e9e9e9" stroke-width="0.5" stroke-dasharray="2.2 1"/>
<line x1="513.00" y1="561.05" x2="671.00" y2="561.05" stroke="#e9e9e9" stroke-width="0.5" stroke-dasharray="2.2 1"/>
<line x1="513.00" y1="566.50" x2="671.00" y2="566.50" stroke="#e9e9e9" stroke-width="0.5" stroke-dasharray="2.2 1"/>
<line x1="513.00" y1="571.95" x2="671.00" y2="571.95" stroke="#e9e9e9" stroke-width="0.5" stroke-dasharray="2.2 1"/>
<line x1="513.00" y1="577.40" x2="671.00" y2="577.40" stroke="#e9e9e9" stroke-width="0.5" stroke-dasharray="2.2 1"/>
<line x1="513.00" y1="582.85" x2="671.00" y2="582.85" stroke="#e9e9e9" stroke-width="0.5" stroke-dasharray="2.2 1"/>
<line x1="513.00" y1="588.30" x2="671.00" y2="588.30" stroke="#e9e9e9" stroke-width="0.5" stroke-dasharray="2.2 1"/>
<line x1="513.00" y1="593.75" x2="671.00" y2="593.75" stroke="#e9e9e9" stroke-width="0.5" stroke-dasharray="2.2 1"/>
<line x1="513.00" y1="599.21" x2="671.00" y2="599.21" stroke="#e9e9e9" stroke-width="0.5" stroke-dasharray="2.2 1"/>
<line x1="513.00" y1="604.66" x2="671.00" y2="604.66" stroke="#e9e9e9" stroke-width="0.5" stroke-dasharray="2.2 1"/>
<line x1="513.00" y1="610.11" x2="671.00" y2="610.11" stroke="#e9e9e9" stroke-width="0.5" stroke-dasharray="2.2 1"/>
<line x1="513.00" y1="615.56" x2="671.00" y2="615.56" stroke="#e9e9e9" stroke-width="0.5" stroke-dasharray="2.2 1"/>
<line x1="520.44" y1="12.30" x2="520.44" y2="625.80" stroke="#e9e9e9" stroke-width="0.5" stroke-dasharray="2.2 1"/>
<line x1="537.30" y1="12.30" x2="537.30" y2="625.80" stroke="#e9e9e9" stroke-width="0.5" stroke-dasharray="2.2 1"/>
<line x1="554.16" y1="12.30" x2="554.16" y2="625.80" stroke="#e9e9e9" stroke-width="0.5" stroke-dasharray="2.2 1"/>
<line x1="571.02" y1="12.30" x2="571.02" y2="625.80" stroke="#e9e9e9" stroke-width="0.5" stroke-dasharray="2.2 1"/>
<line x1="587.88" y1="12.30" x2="587.88" y2="625.80" stroke="#e9e9e9" stroke-width="0.5" stroke-dasharray="2.2 1"/>
<line x1="604.74" y1="12.30" x2="604.74" y2="625.80" stroke="#e9e9e9" stroke-width="0.5" stroke-dasharray="2.2 1"/>
<line x1="621.60" y1="12.30" x2="621.60" y2="625.80" stroke="#e9e9e9" stroke-width="0.5" stroke-dasharray="2.2 1"/>
<line x1="638.46" y1="12.30" x2="638.46" y2="625.80" stroke="#e9e9e9" stroke-width="0.5" stroke-dasharray="2.2 1"/>
<line x1="655.32" y1="12.30" x2="655.32" y2="625.80" stroke="#e9e9e9" stroke-width="0.5" stroke-dasharray="2.2 1"/>
<line x1="621.60" y1="12.30" x2="621.60" y2="625.80" stroke="#3a3a3a" stroke-width="1.0" />
<line x1="367.50" y1="65.01" x2="645.70" y2="65.01" stroke="#c2c2c2" stroke-width="1.9" stroke-dasharray="5.8 2.8"/>
<line x1="191.80" y1="75.45" x2="359.20" y2="75.45" stroke="#c2c2c2" stroke-width="1.9" stroke-dasharray="5.8 2.8"/>
<line x1="167.40" y1="80.90" x2="370.00" y2="80.90" stroke="#c2c2c2" stroke-width="1.9" stroke-dasharray="5.8 2.8"/>
<line x1="274.30" y1="91.81" x2="649.20" y2="91.81" stroke="#c2c2c2" stroke-width="1.9" stroke-dasharray="5.8 2.8"/>
<line x1="286.90" y1="102.72" x2="646.50" y2="102.72" stroke="#c2c2c2" stroke-width="1.9" stroke-dasharray="5.8 2.8"/>
<line x1="177.90" y1="119.09" x2="365.50" y2="119.09" stroke="#c2c2c2" stroke-width="1.9" stroke-dasharray="5.8 2.8"/>
<line x1="183.30" y1="124.54" x2="362.00" y2="124.54" stroke="#c2c2c2" stroke-width="1.9" stroke-dasharray="5.8 2.8"/>
<line x1="194.70" y1="135.45" x2="363.00" y2="135.45" stroke="#c2c2c2" stroke-width="1.9" stroke-dasharray="5.8 2.8"/>
<line x1="198.00" y1="140.91" x2="417.20" y2="140.91" stroke="#c2c2c2" stroke-width="1.9" stroke-dasharray="5.8 2.8"/>
<line x1="421.70" y1="179.48" x2="579.00" y2="179.48" stroke="#c2c2c2" stroke-width="1.9" stroke-dasharray="5.8 2.8"/>
<line x1="447.40" y1="195.83" x2="573.50" y2="195.83" stroke="#c2c2c2" stroke-width="1.9" stroke-dasharray="5.8 2.8"/>
<line x1="446.70" y1="206.73" x2="591.90" y2="206.73" stroke="#c2c2c2" stroke-width="1.9" stroke-dasharray="5.8 2.8"/>
<line x1="195.70" y1="211.82" x2="538.00" y2="211.82" stroke="#c2c2c2" stroke-width="1.9" stroke-dasharray="5.8 2.8"/>
<line x1="195.20" y1="217.28" x2="596.30" y2="217.28" stroke="#c2c2c2" stroke-width="1.9" stroke-dasharray="5.8 2.8"/>
<line x1="431.80" y1="228.54" x2="603.30" y2="228.54" stroke="#c2c2c2" stroke-width="1.9" stroke-dasharray="5.8 2.8"/>
<line x1="490.10" y1="233.99" x2="559.90" y2="233.99" stroke="#c2c2c2" stroke-width="1.9" stroke-dasharray="5.8 2.8"/>
<line x1="475.20" y1="239.44" x2="520.10" y2="239.44" stroke="#c2c2c2" stroke-width="1.9" stroke-dasharray="5.8 2.8"/>
<line x1="433.50" y1="244.89" x2="559.40" y2="244.89" stroke="#c2c2c2" stroke-width="1.9" stroke-dasharray="5.8 2.8"/>
<line x1="445.00" y1="250.34" x2="567.30" y2="250.34" stroke="#c2c2c2" stroke-width="1.9" stroke-dasharray="5.8 2.8"/>
<line x1="434.30" y1="255.79" x2="571.80" y2="255.79" stroke="#c2c2c2" stroke-width="1.9" stroke-dasharray="5.8 2.8"/>
<line x1="446.70" y1="261.24" x2="580.70" y2="261.24" stroke="#c2c2c2" stroke-width="1.9" stroke-dasharray="5.8 2.8"/>
<line x1="455.90" y1="266.69" x2="559.10" y2="266.69" stroke="#c2c2c2" stroke-width="1.9" stroke-dasharray="5.8 2.8"/>
<line x1="197.00" y1="271.83" x2="522.60" y2="271.83" stroke="#c2c2c2" stroke-width="1.9" stroke-dasharray="5.8 2.8"/>
<line x1="445.40" y1="277.60" x2="578.20" y2="277.60" stroke="#c2c2c2" stroke-width="1.9" stroke-dasharray="5.8 2.8"/>
<line x1="421.60" y1="283.05" x2="597.80" y2="283.05" stroke="#c2c2c2" stroke-width="1.9" stroke-dasharray="5.8 2.8"/>
<line x1="430.80" y1="288.50" x2="582.90" y2="288.50" stroke="#c2c2c2" stroke-width="1.9" stroke-dasharray="5.8 2.8"/>
<line x1="447.90" y1="293.95" x2="587.90" y2="293.95" stroke="#c2c2c2" stroke-width="1.9" stroke-dasharray="5.8 2.8"/>
<line x1="422.90" y1="304.85" x2="590.40" y2="304.85" stroke="#c2c2c2" stroke-width="1.9" stroke-dasharray="5.8 2.8"/>
<line x1="442.50" y1="310.30" x2="578.70" y2="310.30" stroke="#c2c2c2" stroke-width="1.9" stroke-dasharray="5.8 2.8"/>
<line x1="461.80" y1="315.75" x2="560.30" y2="315.75" stroke="#c2c2c2" stroke-width="1.9" stroke-dasharray="5.8 2.8"/>
<line x1="474.70" y1="321.20" x2="561.60" y2="321.20" stroke="#c2c2c2" stroke-width="1.9" stroke-dasharray="5.8 2.8"/>
<line x1="464.30" y1="326.66" x2="564.60" y2="326.66" stroke="#c2c2c2" stroke-width="1.9" stroke-dasharray="5.8 2.8"/>
<line x1="432.10" y1="332.11" x2="589.40" y2="332.11" stroke="#c2c2c2" stroke-width="1.9" stroke-dasharray="5.8 2.8"/>
<line x1="448.30" y1="337.56" x2="590.10" y2="337.56" stroke="#c2c2c2" stroke-width="1.9" stroke-dasharray="5.8 2.8"/>
<line x1="481.20" y1="343.01" x2="594.60" y2="343.01" stroke="#c2c2c2" stroke-width="1.9" stroke-dasharray="5.8 2.8"/>
<line x1="295.60" y1="359.11" x2="361.60" y2="359.11" stroke="#c2c2c2" stroke-width="1.9" stroke-dasharray="5.8 2.8"/>
<line x1="253.30" y1="408.20" x2="365.30" y2="408.20" stroke="#c2c2c2" stroke-width="1.9" stroke-dasharray="5.8 2.8"/>
<line x1="363.20" y1="457.48" x2="663.60" y2="457.48" stroke="#c2c2c2" stroke-width="1.9" stroke-dasharray="5.8 2.8"/>
<line x1="191.20" y1="473.66" x2="572.00" y2="473.66" stroke="#c2c2c2" stroke-width="1.9" stroke-dasharray="5.8 2.8"/>
<line x1="186.40" y1="479.12" x2="585.20" y2="479.12" stroke="#c2c2c2" stroke-width="1.9" stroke-dasharray="5.8 2.8"/>
<line x1="418.50" y1="506.54" x2="597.80" y2="506.54" stroke="#c2c2c2" stroke-width="1.9" stroke-dasharray="5.8 2.8"/>
<line x1="428.30" y1="528.34" x2="603.30" y2="528.34" stroke="#c2c2c2" stroke-width="1.9" stroke-dasharray="5.8 2.8"/>
<line x1="160.40" y1="12.30" x2="160.40" y2="625.00" stroke="#6e6e6e" stroke-width="1.0" />
<line x1="159.90" y1="624.50" x2="323.80" y2="624.50" stroke="#6e6e6e" stroke-width="1.1" />
<line x1="157.80" y1="20.40" x2="160.40" y2="20.40" stroke="#555" stroke-width="0.9" />
<line x1="157.80" y1="25.86" x2="160.40" y2="25.86" stroke="#555" stroke-width="0.9" />
<line x1="157.80" y1="31.32" x2="160.40" y2="31.32" stroke="#555" stroke-width="0.9" />
<line x1="157.80" y1="36.78" x2="160.40" y2="36.78" stroke="#555" stroke-width="0.9" />
<line x1="157.80" y1="42.24" x2="160.40" y2="42.24" stroke="#555" stroke-width="0.9" />
<line x1="157.80" y1="47.69" x2="160.40" y2="47.69" stroke="#555" stroke-width="0.9" />
<line x1="157.80" y1="53.15" x2="160.40" y2="53.15" stroke="#555" stroke-width="0.9" />
<line x1="157.80" y1="58.61" x2="160.40" y2="58.61" stroke="#555" stroke-width="0.9" />
<line x1="157.80" y1="64.07" x2="160.40" y2="64.07" stroke="#555" stroke-width="0.9" />
<line x1="157.80" y1="69.53" x2="160.40" y2="69.53" stroke="#555" stroke-width="0.9" />
<line x1="157.80" y1="74.99" x2="160.40" y2="74.99" stroke="#555" stroke-width="0.9" />
<line x1="157.80" y1="80.45" x2="160.40" y2="80.45" stroke="#555" stroke-width="0.9" />
<line x1="157.80" y1="85.91" x2="160.40" y2="85.91" stroke="#555" stroke-width="0.9" />
<line x1="157.80" y1="91.37" x2="160.40" y2="91.37" stroke="#555" stroke-width="0.9" />
<line x1="157.80" y1="96.83" x2="160.40" y2="96.83" stroke="#555" stroke-width="0.9" />
<line x1="157.80" y1="102.28" x2="160.40" y2="102.28" stroke="#555" stroke-width="0.9" />
<line x1="157.80" y1="107.74" x2="160.40" y2="107.74" stroke="#555" stroke-width="0.9" />
<line x1="157.80" y1="113.20" x2="160.40" y2="113.20" stroke="#555" stroke-width="0.9" />
<line x1="157.80" y1="118.66" x2="160.40" y2="118.66" stroke="#555" stroke-width="0.9" />
<line x1="157.80" y1="124.12" x2="160.40" y2="124.12" stroke="#555" stroke-width="0.9" />
<line x1="157.80" y1="129.58" x2="160.40" y2="129.58" stroke="#555" stroke-width="0.9" />
<line x1="157.80" y1="135.04" x2="160.40" y2="135.04" stroke="#555" stroke-width="0.9" />
<line x1="157.80" y1="140.50" x2="160.40" y2="140.50" stroke="#555" stroke-width="0.9" />
<line x1="157.80" y1="145.96" x2="160.40" y2="145.96" stroke="#555" stroke-width="0.9" />
<line x1="157.80" y1="151.42" x2="160.40" y2="151.42" stroke="#555" stroke-width="0.9" />
<line x1="157.80" y1="156.88" x2="160.40" y2="156.88" stroke="#555" stroke-width="0.9" />
<line x1="157.80" y1="162.33" x2="160.40" y2="162.33" stroke="#555" stroke-width="0.9" />
<line x1="157.80" y1="167.79" x2="160.40" y2="167.79" stroke="#555" stroke-width="0.9" />
<line x1="157.80" y1="173.25" x2="160.40" y2="173.25" stroke="#555" stroke-width="0.9" />
<line x1="157.80" y1="178.71" x2="160.40" y2="178.71" stroke="#555" stroke-width="0.9" />
<line x1="157.80" y1="184.17" x2="160.40" y2="184.17" stroke="#555" stroke-width="0.9" />
<line x1="157.80" y1="189.63" x2="160.40" y2="189.63" stroke="#555" stroke-width="0.9" />
<line x1="157.80" y1="195.09" x2="160.40" y2="195.09" stroke="#555" stroke-width="0.9" />
<line x1="157.80" y1="200.55" x2="160.40" y2="200.55" stroke="#555" stroke-width="0.9" />
<line x1="157.80" y1="206.01" x2="160.40" y2="206.01" stroke="#555" stroke-width="0.9" />
<line x1="157.80" y1="211.47" x2="160.40" y2="211.47" stroke="#555" stroke-width="0.9" />
<line x1="157.80" y1="216.92" x2="160.40" y2="216.92" stroke="#555" stroke-width="0.9" />
<line x1="157.80" y1="222.38" x2="160.40" y2="222.38" stroke="#555" stroke-width="0.9" />
<line x1="157.80" y1="227.84" x2="160.40" y2="227.84" stroke="#555" stroke-width="0.9" />
<line x1="157.80" y1="233.30" x2="160.40" y2="233.30" stroke="#555" stroke-width="0.9" />
<line x1="157.80" y1="238.76" x2="160.40" y2="238.76" stroke="#555" stroke-width="0.9" />
<line x1="157.80" y1="244.22" x2="160.40" y2="244.22" stroke="#555" stroke-width="0.9" />
<line x1="157.80" y1="249.68" x2="160.40" y2="249.68" stroke="#555" stroke-width="0.9" />
<line x1="157.80" y1="255.14" x2="160.40" y2="255.14" stroke="#555" stroke-width="0.9" />
<line x1="157.80" y1="260.60" x2="160.40" y2="260.60" stroke="#555" stroke-width="0.9" />
<line x1="157.80" y1="266.05" x2="160.40" y2="266.05" stroke="#555" stroke-width="0.9" />
<line x1="157.80" y1="271.51" x2="160.40" y2="271.51" stroke="#555" stroke-width="0.9" />
<line x1="157.80" y1="276.97" x2="160.40" y2="276.97" stroke="#555" stroke-width="0.9" />
<line x1="157.80" y1="282.43" x2="160.40" y2="282.43" stroke="#555" stroke-width="0.9" />
<line x1="157.80" y1="287.89" x2="160.40" y2="287.89" stroke="#555" stroke-width="0.9" />
<line x1="157.80" y1="293.35" x2="160.40" y2="293.35" stroke="#555" stroke-width="0.9" />
<line x1="157.80" y1="298.81" x2="160.40" y2="298.81" stroke="#555" stroke-width="0.9" />
<line x1="157.80" y1="304.27" x2="160.40" y2="304.27" stroke="#555" stroke-width="0.9" />
<line x1="157.80" y1="309.73" x2="160.40" y2="309.73" stroke="#555" stroke-width="0.9" />
<line x1="157.80" y1="315.19" x2="160.40" y2="315.19" stroke="#555" stroke-width="0.9" />
<line x1="157.80" y1="320.64" x2="160.40" y2="320.64" stroke="#555" stroke-width="0.9" />
<line x1="157.80" y1="326.10" x2="160.40" y2="326.10" stroke="#555" stroke-width="0.9" />
<line x1="157.80" y1="331.56" x2="160.40" y2="331.56" stroke="#555" stroke-width="0.9" />
<line x1="157.80" y1="337.02" x2="160.40" y2="337.02" stroke="#555" stroke-width="0.9" />
<line x1="157.80" y1="342.48" x2="160.40" y2="342.48" stroke="#555" stroke-width="0.9" />
<line x1="157.80" y1="347.94" x2="160.40" y2="347.94" stroke="#555" stroke-width="0.9" />
<line x1="157.80" y1="353.40" x2="160.40" y2="353.40" stroke="#555" stroke-width="0.9" />
<line x1="157.80" y1="358.86" x2="160.40" y2="358.86" stroke="#555" stroke-width="0.9" />
<line x1="157.80" y1="364.32" x2="160.40" y2="364.32" stroke="#555" stroke-width="0.9" />
<line x1="157.80" y1="369.78" x2="160.40" y2="369.78" stroke="#555" stroke-width="0.9" />
<line x1="157.80" y1="375.23" x2="160.40" y2="375.23" stroke="#555" stroke-width="0.9" />
<line x1="157.80" y1="380.69" x2="160.40" y2="380.69" stroke="#555" stroke-width="0.9" />
<line x1="157.80" y1="386.15" x2="160.40" y2="386.15" stroke="#555" stroke-width="0.9" />
<line x1="157.80" y1="391.61" x2="160.40" y2="391.61" stroke="#555" stroke-width="0.9" />
<line x1="157.80" y1="397.07" x2="160.40" y2="397.07" stroke="#555" stroke-width="0.9" />
<line x1="157.80" y1="402.53" x2="160.40" y2="402.53" stroke="#555" stroke-width="0.9" />
<line x1="157.80" y1="407.99" x2="160.40" y2="407.99" stroke="#555" stroke-width="0.9" />
<line x1="157.80" y1="413.45" x2="160.40" y2="413.45" stroke="#555" stroke-width="0.9" />
<line x1="157.80" y1="418.91" x2="160.40" y2="418.91" stroke="#555" stroke-width="0.9" />
<line x1="157.80" y1="424.37" x2="160.40" y2="424.37" stroke="#555" stroke-width="0.9" />
<line x1="157.80" y1="429.82" x2="160.40" y2="429.82" stroke="#555" stroke-width="0.9" />
<line x1="157.80" y1="435.28" x2="160.40" y2="435.28" stroke="#555" stroke-width="0.9" />
<line x1="157.80" y1="440.74" x2="160.40" y2="440.74" stroke="#555" stroke-width="0.9" />
<line x1="157.80" y1="446.20" x2="160.40" y2="446.20" stroke="#555" stroke-width="0.9" />
<line x1="157.80" y1="451.66" x2="160.40" y2="451.66" stroke="#555" stroke-width="0.9" />
<line x1="157.80" y1="457.12" x2="160.40" y2="457.12" stroke="#555" stroke-width="0.9" />
<line x1="157.80" y1="462.58" x2="160.40" y2="462.58" stroke="#555" stroke-width="0.9" />
<line x1="157.80" y1="468.04" x2="160.40" y2="468.04" stroke="#555" stroke-width="0.9" />
<line x1="157.80" y1="473.50" x2="160.40" y2="473.50" stroke="#555" stroke-width="0.9" />
<line x1="157.80" y1="478.96" x2="160.40" y2="478.96" stroke="#555" stroke-width="0.9" />
<line x1="157.80" y1="484.41" x2="160.40" y2="484.41" stroke="#555" stroke-width="0.9" />
<line x1="157.80" y1="489.87" x2="160.40" y2="489.87" stroke="#555" stroke-width="0.9" />
<line x1="157.80" y1="495.33" x2="160.40" y2="495.33" stroke="#555" stroke-width="0.9" />
<line x1="157.80" y1="500.79" x2="160.40" y2="500.79" stroke="#555" stroke-width="0.9" />
<line x1="157.80" y1="506.25" x2="160.40" y2="506.25" stroke="#555" stroke-width="0.9" />
<line x1="157.80" y1="511.71" x2="160.40" y2="511.71" stroke="#555" stroke-width="0.9" />
<line x1="157.80" y1="517.17" x2="160.40" y2="517.17" stroke="#555" stroke-width="0.9" />
<line x1="157.80" y1="522.63" x2="160.40" y2="522.63" stroke="#555" stroke-width="0.9" />
<line x1="157.80" y1="528.09" x2="160.40" y2="528.09" stroke="#555" stroke-width="0.9" />
<line x1="157.80" y1="533.55" x2="160.40" y2="533.55" stroke="#555" stroke-width="0.9" />
<line x1="157.80" y1="539.00" x2="160.40" y2="539.00" stroke="#555" stroke-width="0.9" />
<line x1="157.80" y1="544.46" x2="160.40" y2="544.46" stroke="#555" stroke-width="0.9" />
<line x1="157.80" y1="549.92" x2="160.40" y2="549.92" stroke="#555" stroke-width="0.9" />
<line x1="157.80" y1="555.38" x2="160.40" y2="555.38" stroke="#555" stroke-width="0.9" />
<line x1="157.80" y1="560.84" x2="160.40" y2="560.84" stroke="#555" stroke-width="0.9" />
<line x1="157.80" y1="566.30" x2="160.40" y2="566.30" stroke="#555" stroke-width="0.9" />
<line x1="157.80" y1="571.76" x2="160.40" y2="571.76" stroke="#555" stroke-width="0.9" />
<line x1="157.80" y1="577.22" x2="160.40" y2="577.22" stroke="#555" stroke-width="0.9" />
<line x1="157.80" y1="582.68" x2="160.40" y2="582.68" stroke="#555" stroke-width="0.9" />
<line x1="157.80" y1="588.14" x2="160.40" y2="588.14" stroke="#555" stroke-width="0.9" />
<line x1="157.80" y1="593.59" x2="160.40" y2="593.59" stroke="#555" stroke-width="0.9" />
<line x1="157.80" y1="599.05" x2="160.40" y2="599.05" stroke="#555" stroke-width="0.9" />
<line x1="157.80" y1="604.51" x2="160.40" y2="604.51" stroke="#555" stroke-width="0.9" />
<line x1="157.80" y1="609.97" x2="160.40" y2="609.97" stroke="#555" stroke-width="0.9" />
<line x1="157.80" y1="615.43" x2="160.40" y2="615.43" stroke="#555" stroke-width="0.9" />
<line x1="165.08" y1="624.50" x2="165.08" y2="627.10" stroke="#555" stroke-width="0.9" />
<text x="165.08" y="637.90" font-size="10.5" text-anchor="middle" fill="#111" color="#111" >−6</text>
<line x1="184.72" y1="624.50" x2="184.72" y2="627.10" stroke="#555" stroke-width="0.9" />
<text x="184.72" y="637.90" font-size="10.5" text-anchor="middle" fill="#111" color="#111" >−4</text>
<line x1="204.36" y1="624.50" x2="204.36" y2="627.10" stroke="#555" stroke-width="0.9" />
<text x="204.36" y="637.90" font-size="10.5" text-anchor="middle" fill="#111" color="#111" >−2</text>
<line x1="224.00" y1="624.50" x2="224.00" y2="627.10" stroke="#555" stroke-width="0.9" />
<text x="224.00" y="637.90" font-size="10.5" text-anchor="middle" fill="#111" color="#111" >0</text>
<line x1="243.64" y1="624.50" x2="243.64" y2="627.10" stroke="#555" stroke-width="0.9" />
<text x="243.64" y="637.90" font-size="10.5" text-anchor="middle" fill="#111" color="#111" >2</text>
<line x1="263.28" y1="624.50" x2="263.28" y2="627.10" stroke="#555" stroke-width="0.9" />
<text x="263.28" y="637.90" font-size="10.5" text-anchor="middle" fill="#111" color="#111" >4</text>
<line x1="282.92" y1="624.50" x2="282.92" y2="627.10" stroke="#555" stroke-width="0.9" />
<text x="282.92" y="637.90" font-size="10.5" text-anchor="middle" fill="#111" color="#111" >6</text>
<line x1="302.56" y1="624.50" x2="302.56" y2="627.10" stroke="#555" stroke-width="0.9" />
<text x="302.56" y="637.90" font-size="10.5" text-anchor="middle" fill="#111" color="#111" >8</text>
<line x1="322.20" y1="624.50" x2="322.20" y2="627.10" stroke="#555" stroke-width="0.9" />
<text x="322.20" y="637.90" font-size="10.5" text-anchor="middle" fill="#111" color="#111" >10</text>
<line x1="339.30" y1="12.30" x2="339.30" y2="626.10" stroke="#555" stroke-width="1.0" />
<line x1="338.80" y1="625.60" x2="499.60" y2="625.60" stroke="#555" stroke-width="1.1" />
<line x1="336.70" y1="21.40" x2="339.30" y2="21.40" stroke="#333" stroke-width="0.9" />
<line x1="336.70" y1="26.85" x2="339.30" y2="26.85" stroke="#333" stroke-width="0.9" />
<line x1="336.70" y1="32.30" x2="339.30" y2="32.30" stroke="#333" stroke-width="0.9" />
<line x1="336.70" y1="37.75" x2="339.30" y2="37.75" stroke="#333" stroke-width="0.9" />
<line x1="336.70" y1="43.20" x2="339.30" y2="43.20" stroke="#333" stroke-width="0.9" />
<line x1="336.70" y1="48.66" x2="339.30" y2="48.66" stroke="#333" stroke-width="0.9" />
<line x1="336.70" y1="54.11" x2="339.30" y2="54.11" stroke="#333" stroke-width="0.9" />
<line x1="336.70" y1="59.56" x2="339.30" y2="59.56" stroke="#333" stroke-width="0.9" />
<line x1="336.70" y1="65.01" x2="339.30" y2="65.01" stroke="#333" stroke-width="0.9" />
<line x1="336.70" y1="70.46" x2="339.30" y2="70.46" stroke="#333" stroke-width="0.9" />
<line x1="336.70" y1="75.91" x2="339.30" y2="75.91" stroke="#333" stroke-width="0.9" />
<line x1="336.70" y1="81.36" x2="339.30" y2="81.36" stroke="#333" stroke-width="0.9" />
<line x1="336.70" y1="86.81" x2="339.30" y2="86.81" stroke="#333" stroke-width="0.9" />
<line x1="336.70" y1="92.26" x2="339.30" y2="92.26" stroke="#333" stroke-width="0.9" />
<line x1="336.70" y1="97.71" x2="339.30" y2="97.71" stroke="#333" stroke-width="0.9" />
<line x1="336.70" y1="103.16" x2="339.30" y2="103.16" stroke="#333" stroke-width="0.9" />
<line x1="336.70" y1="108.62" x2="339.30" y2="108.62" stroke="#333" stroke-width="0.9" />
<line x1="336.70" y1="114.07" x2="339.30" y2="114.07" stroke="#333" stroke-width="0.9" />
<line x1="336.70" y1="119.52" x2="339.30" y2="119.52" stroke="#333" stroke-width="0.9" />
<line x1="336.70" y1="124.97" x2="339.30" y2="124.97" stroke="#333" stroke-width="0.9" />
<line x1="336.70" y1="130.42" x2="339.30" y2="130.42" stroke="#333" stroke-width="0.9" />
<line x1="336.70" y1="135.87" x2="339.30" y2="135.87" stroke="#333" stroke-width="0.9" />
<line x1="336.70" y1="141.32" x2="339.30" y2="141.32" stroke="#333" stroke-width="0.9" />
<line x1="336.70" y1="146.77" x2="339.30" y2="146.77" stroke="#333" stroke-width="0.9" />
<line x1="336.70" y1="152.22" x2="339.30" y2="152.22" stroke="#333" stroke-width="0.9" />
<line x1="336.70" y1="157.67" x2="339.30" y2="157.67" stroke="#333" stroke-width="0.9" />
<line x1="336.70" y1="163.13" x2="339.30" y2="163.13" stroke="#333" stroke-width="0.9" />
<line x1="336.70" y1="168.58" x2="339.30" y2="168.58" stroke="#333" stroke-width="0.9" />
<line x1="336.70" y1="174.03" x2="339.30" y2="174.03" stroke="#333" stroke-width="0.9" />
<line x1="336.70" y1="179.48" x2="339.30" y2="179.48" stroke="#333" stroke-width="0.9" />
<line x1="336.70" y1="184.93" x2="339.30" y2="184.93" stroke="#333" stroke-width="0.9" />
<line x1="336.70" y1="190.38" x2="339.30" y2="190.38" stroke="#333" stroke-width="0.9" />
<line x1="336.70" y1="195.83" x2="339.30" y2="195.83" stroke="#333" stroke-width="0.9" />
<line x1="336.70" y1="201.28" x2="339.30" y2="201.28" stroke="#333" stroke-width="0.9" />
<line x1="336.70" y1="206.73" x2="339.30" y2="206.73" stroke="#333" stroke-width="0.9" />
<line x1="336.70" y1="212.19" x2="339.30" y2="212.19" stroke="#333" stroke-width="0.9" />
<line x1="336.70" y1="217.64" x2="339.30" y2="217.64" stroke="#333" stroke-width="0.9" />
<line x1="336.70" y1="223.09" x2="339.30" y2="223.09" stroke="#333" stroke-width="0.9" />
<line x1="336.70" y1="228.54" x2="339.30" y2="228.54" stroke="#333" stroke-width="0.9" />
<line x1="336.70" y1="233.99" x2="339.30" y2="233.99" stroke="#333" stroke-width="0.9" />
<line x1="336.70" y1="239.44" x2="339.30" y2="239.44" stroke="#333" stroke-width="0.9" />
<line x1="336.70" y1="244.89" x2="339.30" y2="244.89" stroke="#333" stroke-width="0.9" />
<line x1="336.70" y1="250.34" x2="339.30" y2="250.34" stroke="#333" stroke-width="0.9" />
<line x1="336.70" y1="255.79" x2="339.30" y2="255.79" stroke="#333" stroke-width="0.9" />
<line x1="336.70" y1="261.24" x2="339.30" y2="261.24" stroke="#333" stroke-width="0.9" />
<line x1="336.70" y1="266.69" x2="339.30" y2="266.69" stroke="#333" stroke-width="0.9" />
<line x1="336.70" y1="272.15" x2="339.30" y2="272.15" stroke="#333" stroke-width="0.9" />
<line x1="336.70" y1="277.60" x2="339.30" y2="277.60" stroke="#333" stroke-width="0.9" />
<line x1="336.70" y1="283.05" x2="339.30" y2="283.05" stroke="#333" stroke-width="0.9" />
<line x1="336.70" y1="288.50" x2="339.30" y2="288.50" stroke="#333" stroke-width="0.9" />
<line x1="336.70" y1="293.95" x2="339.30" y2="293.95" stroke="#333" stroke-width="0.9" />
<line x1="336.70" y1="299.40" x2="339.30" y2="299.40" stroke="#333" stroke-width="0.9" />
<line x1="336.70" y1="304.85" x2="339.30" y2="304.85" stroke="#333" stroke-width="0.9" />
<line x1="336.70" y1="310.30" x2="339.30" y2="310.30" stroke="#333" stroke-width="0.9" />
<line x1="336.70" y1="315.75" x2="339.30" y2="315.75" stroke="#333" stroke-width="0.9" />
<line x1="336.70" y1="321.20" x2="339.30" y2="321.20" stroke="#333" stroke-width="0.9" />
<line x1="336.70" y1="326.66" x2="339.30" y2="326.66" stroke="#333" stroke-width="0.9" />
<line x1="336.70" y1="332.11" x2="339.30" y2="332.11" stroke="#333" stroke-width="0.9" />
<line x1="336.70" y1="337.56" x2="339.30" y2="337.56" stroke="#333" stroke-width="0.9" />
<line x1="336.70" y1="343.01" x2="339.30" y2="343.01" stroke="#333" stroke-width="0.9" />
<line x1="336.70" y1="348.46" x2="339.30" y2="348.46" stroke="#333" stroke-width="0.9" />
<line x1="336.70" y1="353.91" x2="339.30" y2="353.91" stroke="#333" stroke-width="0.9" />
<line x1="336.70" y1="359.36" x2="339.30" y2="359.36" stroke="#333" stroke-width="0.9" />
<line x1="336.70" y1="364.81" x2="339.30" y2="364.81" stroke="#333" stroke-width="0.9" />
<line x1="336.70" y1="370.26" x2="339.30" y2="370.26" stroke="#333" stroke-width="0.9" />
<line x1="336.70" y1="375.71" x2="339.30" y2="375.71" stroke="#333" stroke-width="0.9" />
<line x1="336.70" y1="381.17" x2="339.30" y2="381.17" stroke="#333" stroke-width="0.9" />
<line x1="336.70" y1="386.62" x2="339.30" y2="386.62" stroke="#333" stroke-width="0.9" />
<line x1="336.70" y1="392.07" x2="339.30" y2="392.07" stroke="#333" stroke-width="0.9" />
<line x1="336.70" y1="397.52" x2="339.30" y2="397.52" stroke="#333" stroke-width="0.9" />
<line x1="336.70" y1="402.97" x2="339.30" y2="402.97" stroke="#333" stroke-width="0.9" />
<line x1="336.70" y1="408.42" x2="339.30" y2="408.42" stroke="#333" stroke-width="0.9" />
<line x1="336.70" y1="413.87" x2="339.30" y2="413.87" stroke="#333" stroke-width="0.9" />
<line x1="336.70" y1="419.32" x2="339.30" y2="419.32" stroke="#333" stroke-width="0.9" />
<line x1="336.70" y1="424.77" x2="339.30" y2="424.77" stroke="#333" stroke-width="0.9" />
<line x1="336.70" y1="430.22" x2="339.30" y2="430.22" stroke="#333" stroke-width="0.9" />
<line x1="336.70" y1="435.68" x2="339.30" y2="435.68" stroke="#333" stroke-width="0.9" />
<line x1="336.70" y1="441.13" x2="339.30" y2="441.13" stroke="#333" stroke-width="0.9" />
<line x1="336.70" y1="446.58" x2="339.30" y2="446.58" stroke="#333" stroke-width="0.9" />
<line x1="336.70" y1="452.03" x2="339.30" y2="452.03" stroke="#333" stroke-width="0.9" />
<line x1="336.70" y1="457.48" x2="339.30" y2="457.48" stroke="#333" stroke-width="0.9" />
<line x1="336.70" y1="462.93" x2="339.30" y2="462.93" stroke="#333" stroke-width="0.9" />
<line x1="336.70" y1="468.38" x2="339.30" y2="468.38" stroke="#333" stroke-width="0.9" />
<line x1="336.70" y1="473.83" x2="339.30" y2="473.83" stroke="#333" stroke-width="0.9" />
<line x1="336.70" y1="479.28" x2="339.30" y2="479.28" stroke="#333" stroke-width="0.9" />
<line x1="336.70" y1="484.73" x2="339.30" y2="484.73" stroke="#333" stroke-width="0.9" />
<line x1="336.70" y1="490.19" x2="339.30" y2="490.19" stroke="#333" stroke-width="0.9" />
<line x1="336.70" y1="495.64" x2="339.30" y2="495.64" stroke="#333" stroke-width="0.9" />
<line x1="336.70" y1="501.09" x2="339.30" y2="501.09" stroke="#333" stroke-width="0.9" />
<line x1="336.70" y1="506.54" x2="339.30" y2="506.54" stroke="#333" stroke-width="0.9" />
<line x1="336.70" y1="511.99" x2="339.30" y2="511.99" stroke="#333" stroke-width="0.9" />
<line x1="336.70" y1="517.44" x2="339.30" y2="517.44" stroke="#333" stroke-width="0.9" />
<line x1="336.70" y1="522.89" x2="339.30" y2="522.89" stroke="#333" stroke-width="0.9" />
<line x1="336.70" y1="528.34" x2="339.30" y2="528.34" stroke="#333" stroke-width="0.9" />
<line x1="336.70" y1="533.79" x2="339.30" y2="533.79" stroke="#333" stroke-width="0.9" />
<line x1="336.70" y1="539.24" x2="339.30" y2="539.24" stroke="#333" stroke-width="0.9" />
<line x1="336.70" y1="544.70" x2="339.30" y2="544.70" stroke="#333" stroke-width="0.9" />
<line x1="336.70" y1="550.15" x2="339.30" y2="550.15" stroke="#333" stroke-width="0.9" />
<line x1="336.70" y1="555.60" x2="339.30" y2="555.60" stroke="#333" stroke-width="0.9" />
<line x1="336.70" y1="561.05" x2="339.30" y2="561.05" stroke="#333" stroke-width="0.9" />
<line x1="336.70" y1="566.50" x2="339.30" y2="566.50" stroke="#333" stroke-width="0.9" />
<line x1="336.70" y1="571.95" x2="339.30" y2="571.95" stroke="#333" stroke-width="0.9" />
<line x1="336.70" y1="577.40" x2="339.30" y2="577.40" stroke="#333" stroke-width="0.9" />
<line x1="336.70" y1="582.85" x2="339.30" y2="582.85" stroke="#333" stroke-width="0.9" />
<line x1="336.70" y1="588.30" x2="339.30" y2="588.30" stroke="#333" stroke-width="0.9" />
<line x1="336.70" y1="593.75" x2="339.30" y2="593.75" stroke="#333" stroke-width="0.9" />
<line x1="336.70" y1="599.21" x2="339.30" y2="599.21" stroke="#333" stroke-width="0.9" />
<line x1="336.70" y1="604.66" x2="339.30" y2="604.66" stroke="#333" stroke-width="0.9" />
<line x1="336.70" y1="610.11" x2="339.30" y2="610.11" stroke="#333" stroke-width="0.9" />
<line x1="336.70" y1="615.56" x2="339.30" y2="615.56" stroke="#333" stroke-width="0.9" />
<line x1="350.50" y1="625.60" x2="350.50" y2="628.20" stroke="#333" stroke-width="0.9" />
<text x="350.50" y="637.90" font-size="10.5" text-anchor="middle" fill="#111" color="#111" >−4</text>
<line x1="371.40" y1="625.60" x2="371.40" y2="628.20" stroke="#333" stroke-width="0.9" />
<text x="371.40" y="637.90" font-size="10.5" text-anchor="middle" fill="#111" color="#111" >−2</text>
<line x1="392.30" y1="625.60" x2="392.30" y2="628.20" stroke="#333" stroke-width="0.9" />
<text x="392.30" y="637.90" font-size="10.5" text-anchor="middle" fill="#111" color="#111" >0</text>
<line x1="413.20" y1="625.60" x2="413.20" y2="628.20" stroke="#333" stroke-width="0.9" />
<text x="413.20" y="637.90" font-size="10.5" text-anchor="middle" fill="#111" color="#111" >2</text>
<line x1="434.10" y1="625.60" x2="434.10" y2="628.20" stroke="#333" stroke-width="0.9" />
<text x="434.10" y="637.90" font-size="10.5" text-anchor="middle" fill="#111" color="#111" >4</text>
<line x1="455.00" y1="625.60" x2="455.00" y2="628.20" stroke="#333" stroke-width="0.9" />
<text x="455.00" y="637.90" font-size="10.5" text-anchor="middle" fill="#111" color="#111" >6</text>
<line x1="475.90" y1="625.60" x2="475.90" y2="628.20" stroke="#333" stroke-width="0.9" />
<text x="475.90" y="637.90" font-size="10.5" text-anchor="middle" fill="#111" color="#111" >8</text>
<line x1="496.80" y1="625.60" x2="496.80" y2="628.20" stroke="#333" stroke-width="0.9" />
<text x="496.80" y="637.90" font-size="10.5" text-anchor="middle" fill="#111" color="#111" >10</text>
<line x1="513.00" y1="12.30" x2="513.00" y2="626.30" stroke="#999" stroke-width="1.0" />
<line x1="512.50" y1="625.80" x2="671.00" y2="625.80" stroke="#999" stroke-width="1.1" />
<line x1="510.40" y1="21.40" x2="513.00" y2="21.40" stroke="#333" stroke-width="0.9" />
<line x1="510.40" y1="26.85" x2="513.00" y2="26.85" stroke="#333" stroke-width="0.9" />
<line x1="510.40" y1="32.30" x2="513.00" y2="32.30" stroke="#333" stroke-width="0.9" />
<line x1="510.40" y1="37.75" x2="513.00" y2="37.75" stroke="#333" stroke-width="0.9" />
<line x1="510.40" y1="43.20" x2="513.00" y2="43.20" stroke="#333" stroke-width="0.9" />
<line x1="510.40" y1="48.66" x2="513.00" y2="48.66" stroke="#333" stroke-width="0.9" />
<line x1="510.40" y1="54.11" x2="513.00" y2="54.11" stroke="#333" stroke-width="0.9" />
<line x1="510.40" y1="59.56" x2="513.00" y2="59.56" stroke="#333" stroke-width="0.9" />
<line x1="510.40" y1="65.01" x2="513.00" y2="65.01" stroke="#333" stroke-width="0.9" />
<line x1="510.40" y1="70.46" x2="513.00" y2="70.46" stroke="#333" stroke-width="0.9" />
<line x1="510.40" y1="75.91" x2="513.00" y2="75.91" stroke="#333" stroke-width="0.9" />
<line x1="510.40" y1="81.36" x2="513.00" y2="81.36" stroke="#333" stroke-width="0.9" />
<line x1="510.40" y1="86.81" x2="513.00" y2="86.81" stroke="#333" stroke-width="0.9" />
<line x1="510.40" y1="92.26" x2="513.00" y2="92.26" stroke="#333" stroke-width="0.9" />
<line x1="510.40" y1="97.71" x2="513.00" y2="97.71" stroke="#333" stroke-width="0.9" />
<line x1="510.40" y1="103.16" x2="513.00" y2="103.16" stroke="#333" stroke-width="0.9" />
<line x1="510.40" y1="108.62" x2="513.00" y2="108.62" stroke="#333" stroke-width="0.9" />
<line x1="510.40" y1="114.07" x2="513.00" y2="114.07" stroke="#333" stroke-width="0.9" />
<line x1="510.40" y1="119.52" x2="513.00" y2="119.52" stroke="#333" stroke-width="0.9" />
<line x1="510.40" y1="124.97" x2="513.00" y2="124.97" stroke="#333" stroke-width="0.9" />
<line x1="510.40" y1="130.42" x2="513.00" y2="130.42" stroke="#333" stroke-width="0.9" />
<line x1="510.40" y1="135.87" x2="513.00" y2="135.87" stroke="#333" stroke-width="0.9" />
<line x1="510.40" y1="141.32" x2="513.00" y2="141.32" stroke="#333" stroke-width="0.9" />
<line x1="510.40" y1="146.77" x2="513.00" y2="146.77" stroke="#333" stroke-width="0.9" />
<line x1="510.40" y1="152.22" x2="513.00" y2="152.22" stroke="#333" stroke-width="0.9" />
<line x1="510.40" y1="157.67" x2="513.00" y2="157.67" stroke="#333" stroke-width="0.9" />
<line x1="510.40" y1="163.13" x2="513.00" y2="163.13" stroke="#333" stroke-width="0.9" />
<line x1="510.40" y1="168.58" x2="513.00" y2="168.58" stroke="#333" stroke-width="0.9" />
<line x1="510.40" y1="174.03" x2="513.00" y2="174.03" stroke="#333" stroke-width="0.9" />
<line x1="510.40" y1="179.48" x2="513.00" y2="179.48" stroke="#333" stroke-width="0.9" />
<line x1="510.40" y1="184.93" x2="513.00" y2="184.93" stroke="#333" stroke-width="0.9" />
<line x1="510.40" y1="190.38" x2="513.00" y2="190.38" stroke="#333" stroke-width="0.9" />
<line x1="510.40" y1="195.83" x2="513.00" y2="195.83" stroke="#333" stroke-width="0.9" />
<line x1="510.40" y1="201.28" x2="513.00" y2="201.28" stroke="#333" stroke-width="0.9" />
<line x1="510.40" y1="206.73" x2="513.00" y2="206.73" stroke="#333" stroke-width="0.9" />
<line x1="510.40" y1="212.19" x2="513.00" y2="212.19" stroke="#333" stroke-width="0.9" />
<line x1="510.40" y1="217.64" x2="513.00" y2="217.64" stroke="#333" stroke-width="0.9" />
<line x1="510.40" y1="223.09" x2="513.00" y2="223.09" stroke="#333" stroke-width="0.9" />
<line x1="510.40" y1="228.54" x2="513.00" y2="228.54" stroke="#333" stroke-width="0.9" />
<line x1="510.40" y1="233.99" x2="513.00" y2="233.99" stroke="#333" stroke-width="0.9" />
<line x1="510.40" y1="239.44" x2="513.00" y2="239.44" stroke="#333" stroke-width="0.9" />
<line x1="510.40" y1="244.89" x2="513.00" y2="244.89" stroke="#333" stroke-width="0.9" />
<line x1="510.40" y1="250.34" x2="513.00" y2="250.34" stroke="#333" stroke-width="0.9" />
<line x1="510.40" y1="255.79" x2="513.00" y2="255.79" stroke="#333" stroke-width="0.9" />
<line x1="510.40" y1="261.24" x2="513.00" y2="261.24" stroke="#333" stroke-width="0.9" />
<line x1="510.40" y1="266.69" x2="513.00" y2="266.69" stroke="#333" stroke-width="0.9" />
<line x1="510.40" y1="272.15" x2="513.00" y2="272.15" stroke="#333" stroke-width="0.9" />
<line x1="510.40" y1="277.60" x2="513.00" y2="277.60" stroke="#333" stroke-width="0.9" />
<line x1="510.40" y1="283.05" x2="513.00" y2="283.05" stroke="#333" stroke-width="0.9" />
<line x1="510.40" y1="288.50" x2="513.00" y2="288.50" stroke="#333" stroke-width="0.9" />
<line x1="510.40" y1="293.95" x2="513.00" y2="293.95" stroke="#333" stroke-width="0.9" />
<line x1="510.40" y1="299.40" x2="513.00" y2="299.40" stroke="#333" stroke-width="0.9" />
<line x1="510.40" y1="304.85" x2="513.00" y2="304.85" stroke="#333" stroke-width="0.9" />
<line x1="510.40" y1="310.30" x2="513.00" y2="310.30" stroke="#333" stroke-width="0.9" />
<line x1="510.40" y1="315.75" x2="513.00" y2="315.75" stroke="#333" stroke-width="0.9" />
<line x1="510.40" y1="321.20" x2="513.00" y2="321.20" stroke="#333" stroke-width="0.9" />
<line x1="510.40" y1="326.66" x2="513.00" y2="326.66" stroke="#333" stroke-width="0.9" />
<line x1="510.40" y1="332.11" x2="513.00" y2="332.11" stroke="#333" stroke-width="0.9" />
<line x1="510.40" y1="337.56" x2="513.00" y2="337.56" stroke="#333" stroke-width="0.9" />
<line x1="510.40" y1="343.01" x2="513.00" y2="343.01" stroke="#333" stroke-width="0.9" />
<line x1="510.40" y1="348.46" x2="513.00" y2="348.46" stroke="#333" stroke-width="0.9" />
<line x1="510.40" y1="353.91" x2="513.00" y2="353.91" stroke="#333" stroke-width="0.9" />
<line x1="510.40" y1="359.36" x2="513.00" y2="359.36" stroke="#333" stroke-width="0.9" />
<line x1="510.40" y1="364.81" x2="513.00" y2="364.81" stroke="#333" stroke-width="0.9" />
<line x1="510.40" y1="370.26" x2="513.00" y2="370.26" stroke="#333" stroke-width="0.9" />
<line x1="510.40" y1="375.71" x2="513.00" y2="375.71" stroke="#333" stroke-width="0.9" />
<line x1="510.40" y1="381.17" x2="513.00" y2="381.17" stroke="#333" stroke-width="0.9" />
<line x1="510.40" y1="386.62" x2="513.00" y2="386.62" stroke="#333" stroke-width="0.9" />
<line x1="510.40" y1="392.07" x2="513.00" y2="392.07" stroke="#333" stroke-width="0.9" />
<line x1="510.40" y1="397.52" x2="513.00" y2="397.52" stroke="#333" stroke-width="0.9" />
<line x1="510.40" y1="402.97" x2="513.00" y2="402.97" stroke="#333" stroke-width="0.9" />
<line x1="510.40" y1="408.42" x2="513.00" y2="408.42" stroke="#333" stroke-width="0.9" />
<line x1="510.40" y1="413.87" x2="513.00" y2="413.87" stroke="#333" stroke-width="0.9" />
<line x1="510.40" y1="419.32" x2="513.00" y2="419.32" stroke="#333" stroke-width="0.9" />
<line x1="510.40" y1="424.77" x2="513.00" y2="424.77" stroke="#333" stroke-width="0.9" />
<line x1="510.40" y1="430.22" x2="513.00" y2="430.22" stroke="#333" stroke-width="0.9" />
<line x1="510.40" y1="435.68" x2="513.00" y2="435.68" stroke="#333" stroke-width="0.9" />
<line x1="510.40" y1="441.13" x2="513.00" y2="441.13" stroke="#333" stroke-width="0.9" />
<line x1="510.40" y1="446.58" x2="513.00" y2="446.58" stroke="#333" stroke-width="0.9" />
<line x1="510.40" y1="452.03" x2="513.00" y2="452.03" stroke="#333" stroke-width="0.9" />
<line x1="510.40" y1="457.48" x2="513.00" y2="457.48" stroke="#333" stroke-width="0.9" />
<line x1="510.40" y1="462.93" x2="513.00" y2="462.93" stroke="#333" stroke-width="0.9" />
<line x1="510.40" y1="468.38" x2="513.00" y2="468.38" stroke="#333" stroke-width="0.9" />
<line x1="510.40" y1="473.83" x2="513.00" y2="473.83" stroke="#333" stroke-width="0.9" />
<line x1="510.40" y1="479.28" x2="513.00" y2="479.28" stroke="#333" stroke-width="0.9" />
<line x1="510.40" y1="484.73" x2="513.00" y2="484.73" stroke="#333" stroke-width="0.9" />
<line x1="510.40" y1="490.19" x2="513.00" y2="490.19" stroke="#333" stroke-width="0.9" />
<line x1="510.40" y1="495.64" x2="513.00" y2="495.64" stroke="#333" stroke-width="0.9" />
<line x1="510.40" y1="501.09" x2="513.00" y2="501.09" stroke="#333" stroke-width="0.9" />
<line x1="510.40" y1="506.54" x2="513.00" y2="506.54" stroke="#333" stroke-width="0.9" />
<line x1="510.40" y1="511.99" x2="513.00" y2="511.99" stroke="#333" stroke-width="0.9" />
<line x1="510.40" y1="517.44" x2="513.00" y2="517.44" stroke="#333" stroke-width="0.9" />
<line x1="510.40" y1="522.89" x2="513.00" y2="522.89" stroke="#333" stroke-width="0.9" />
<line x1="510.40" y1="528.34" x2="513.00" y2="528.34" stroke="#333" stroke-width="0.9" />
<line x1="510.40" y1="533.79" x2="513.00" y2="533.79" stroke="#333" stroke-width="0.9" />
<line x1="510.40" y1="539.24" x2="513.00" y2="539.24" stroke="#333" stroke-width="0.9" />
<line x1="510.40" y1="544.70" x2="513.00" y2="544.70" stroke="#333" stroke-width="0.9" />
<line x1="510.40" y1="550.15" x2="513.00" y2="550.15" stroke="#333" stroke-width="0.9" />
<line x1="510.40" y1="555.60" x2="513.00" y2="555.60" stroke="#333" stroke-width="0.9" />
<line x1="510.40" y1="561.05" x2="513.00" y2="561.05" stroke="#333" stroke-width="0.9" />
<line x1="510.40" y1="566.50" x2="513.00" y2="566.50" stroke="#333" stroke-width="0.9" />
<line x1="510.40" y1="571.95" x2="513.00" y2="571.95" stroke="#333" stroke-width="0.9" />
<line x1="510.40" y1="577.40" x2="513.00" y2="577.40" stroke="#333" stroke-width="0.9" />
<line x1="510.40" y1="582.85" x2="513.00" y2="582.85" stroke="#333" stroke-width="0.9" />
<line x1="510.40" y1="588.30" x2="513.00" y2="588.30" stroke="#333" stroke-width="0.9" />
<line x1="510.40" y1="593.75" x2="513.00" y2="593.75" stroke="#333" stroke-width="0.9" />
<line x1="510.40" y1="599.21" x2="513.00" y2="599.21" stroke="#333" stroke-width="0.9" />
<line x1="510.40" y1="604.66" x2="513.00" y2="604.66" stroke="#333" stroke-width="0.9" />
<line x1="510.40" y1="610.11" x2="513.00" y2="610.11" stroke="#333" stroke-width="0.9" />
<line x1="510.40" y1="615.56" x2="513.00" y2="615.56" stroke="#333" stroke-width="0.9" />
<line x1="520.44" y1="625.80" x2="520.44" y2="628.40" stroke="#333" stroke-width="0.9" />
<text x="520.44" y="637.90" font-size="10.5" text-anchor="middle" fill="#111" color="#111" >−12</text>
<line x1="537.30" y1="625.80" x2="537.30" y2="628.40" stroke="#333" stroke-width="0.9" />
<text x="537.30" y="637.90" font-size="10.5" text-anchor="middle" fill="#111" color="#111" >−10</text>
<line x1="554.16" y1="625.80" x2="554.16" y2="628.40" stroke="#333" stroke-width="0.9" />
<text x="554.16" y="637.90" font-size="10.5" text-anchor="middle" fill="#111" color="#111" >−8</text>
<line x1="571.02" y1="625.80" x2="571.02" y2="628.40" stroke="#333" stroke-width="0.9" />
<text x="571.02" y="637.90" font-size="10.5" text-anchor="middle" fill="#111" color="#111" >−6</text>
<line x1="587.88" y1="625.80" x2="587.88" y2="628.40" stroke="#333" stroke-width="0.9" />
<text x="587.88" y="637.90" font-size="10.5" text-anchor="middle" fill="#111" color="#111" >−4</text>
<line x1="604.74" y1="625.80" x2="604.74" y2="628.40" stroke="#333" stroke-width="0.9" />
<text x="604.74" y="637.90" font-size="10.5" text-anchor="middle" fill="#111" color="#111" >−2</text>
<line x1="621.60" y1="625.80" x2="621.60" y2="628.40" stroke="#333" stroke-width="0.9" />
<text x="621.60" y="637.90" font-size="10.5" text-anchor="middle" fill="#111" color="#111" >0</text>
<line x1="638.46" y1="625.80" x2="638.46" y2="628.40" stroke="#333" stroke-width="0.9" />
<text x="638.46" y="637.90" font-size="10.5" text-anchor="middle" fill="#111" color="#111" >2</text>
<line x1="655.32" y1="625.80" x2="655.32" y2="628.40" stroke="#333" stroke-width="0.9" />
<text x="655.32" y="637.90" font-size="10.5" text-anchor="middle" fill="#111" color="#111" >4</text>
<circle cx="233.60" cy="20.40" r="2.65" fill="#050505"/>
<circle cx="218.10" cy="25.86" r="2.65" fill="#050505"/>
<circle cx="219.20" cy="31.32" r="2.65" fill="#050505"/>
<circle cx="212.10" cy="36.78" r="2.65" fill="#050505"/>
<circle cx="236.20" cy="42.24" r="2.65" fill="#050505"/>
<circle cx="210.90" cy="47.69" r="2.65" fill="#050505"/>
<circle cx="213.60" cy="53.15" r="2.65" fill="#050505"/>
<circle cx="253.80" cy="58.61" r="2.65" fill="#f3de00"/>
<circle cx="220.30" cy="64.07" r="2.65" fill="#050505"/>
<circle cx="216.60" cy="69.53" r="2.65" fill="#050505"/>
<circle cx="191.80" cy="74.99" r="2.65" fill="#3cb71a"/>
<circle cx="167.40" cy="80.45" r="2.65" fill="#e3261c"/>
<circle cx="171.70" cy="85.91" r="2.65" fill="#e3261c"/>
<circle cx="274.30" cy="91.37" r="2.65" fill="#e3261c"/>
<circle cx="274.00" cy="96.83" r="2.65" fill="#e3261c"/>
<circle cx="286.90" cy="102.28" r="2.65" fill="#e3261c"/>
<circle cx="265.30" cy="107.74" r="2.65" fill="#e3261c"/>
<circle cx="209.40" cy="113.20" r="2.65" fill="#050505"/>
<circle cx="177.90" cy="118.66" r="2.65" fill="#e3261c"/>
<circle cx="183.30" cy="124.12" r="2.65" fill="#e3261c"/>
<circle cx="201.40" cy="129.58" r="2.65" fill="#050505"/>
<circle cx="194.70" cy="135.04" r="2.65" fill="#f3de00"/>
<circle cx="198.00" cy="140.50" r="2.65" fill="#f3de00"/>
<circle cx="194.50" cy="145.96" r="2.65" fill="#f3de00"/>
<circle cx="203.90" cy="151.42" r="2.65" fill="#050505"/>
<circle cx="232.50" cy="156.88" r="2.65" fill="#050505"/>
<circle cx="250.10" cy="162.33" r="2.65" fill="#f3de00"/>
<circle cx="227.00" cy="167.79" r="2.65" fill="#050505"/>
<circle cx="228.30" cy="173.25" r="2.65" fill="#050505"/>
<circle cx="213.40" cy="178.71" r="2.65" fill="#050505"/>
<circle cx="239.40" cy="184.17" r="2.65" fill="#050505"/>
<circle cx="242.40" cy="189.63" r="2.65" fill="#050505"/>
<circle cx="211.60" cy="195.09" r="2.65" fill="#050505"/>
<circle cx="243.40" cy="200.55" r="2.65" fill="#050505"/>
<circle cx="217.60" cy="206.01" r="2.65" fill="#050505"/>
<circle cx="195.70" cy="211.47" r="2.65" fill="#f3de00"/>
<circle cx="195.20" cy="216.92" r="2.65" fill="#f3de00"/>
<circle cx="222.50" cy="222.38" r="2.65" fill="#050505"/>
<circle cx="227.80" cy="227.84" r="2.65" fill="#050505"/>
<circle cx="209.90" cy="233.30" r="2.65" fill="#050505"/>
<circle cx="200.70" cy="238.76" r="2.65" fill="#050505"/>
<circle cx="219.80" cy="244.22" r="2.65" fill="#050505"/>
<circle cx="221.80" cy="249.68" r="2.65" fill="#050505"/>
<circle cx="226.00" cy="255.14" r="2.65" fill="#050505"/>
<circle cx="226.30" cy="260.60" r="2.65" fill="#050505"/>
<circle cx="238.20" cy="266.05" r="2.65" fill="#050505"/>
<circle cx="197.00" cy="271.51" r="2.65" fill="#f3de00"/>
<circle cx="218.60" cy="276.97" r="2.65" fill="#050505"/>
<circle cx="224.80" cy="282.43" r="2.65" fill="#050505"/>
<circle cx="231.20" cy="287.89" r="2.65" fill="#050505"/>
<circle cx="243.40" cy="293.35" r="2.65" fill="#050505"/>
<circle cx="241.20" cy="298.81" r="2.65" fill="#050505"/>
<circle cx="222.50" cy="304.27" r="2.65" fill="#050505"/>
<circle cx="217.60" cy="309.73" r="2.65" fill="#050505"/>
<circle cx="211.60" cy="315.19" r="2.65" fill="#050505"/>
<circle cx="223.50" cy="320.64" r="2.65" fill="#050505"/>
<circle cx="221.10" cy="326.10" r="2.65" fill="#050505"/>
<circle cx="223.80" cy="331.56" r="2.65" fill="#050505"/>
<circle cx="221.30" cy="337.02" r="2.65" fill="#050505"/>
<circle cx="223.80" cy="342.48" r="2.65" fill="#050505"/>
<circle cx="230.30" cy="347.94" r="2.65" fill="#050505"/>
<circle cx="237.70" cy="353.40" r="2.65" fill="#050505"/>
<circle cx="295.60" cy="358.86" r="2.65" fill="#e3261c"/>
<circle cx="242.10" cy="364.32" r="2.65" fill="#050505"/>
<circle cx="316.20" cy="369.78" r="2.65" fill="#e3261c"/>
<circle cx="244.80" cy="375.23" r="2.65" fill="#050505"/>
<circle cx="269.90" cy="380.69" r="2.65" fill="#e3261c"/>
<circle cx="218.80" cy="386.15" r="2.65" fill="#050505"/>
<circle cx="239.70" cy="391.61" r="2.65" fill="#050505"/>
<circle cx="238.40" cy="397.07" r="2.65" fill="#050505"/>
<circle cx="249.10" cy="402.53" r="2.65" fill="#f3de00"/>
<circle cx="253.30" cy="407.99" r="2.65" fill="#f3de00"/>
<circle cx="240.20" cy="413.45" r="2.65" fill="#050505"/>
<circle cx="280.70" cy="418.91" r="2.65" fill="#e3261c"/>
<circle cx="311.40" cy="424.37" r="2.65" fill="#e3261c"/>
<circle cx="218.60" cy="429.82" r="2.65" fill="#050505"/>
<circle cx="243.40" cy="435.28" r="2.65" fill="#050505"/>
<circle cx="243.40" cy="440.74" r="2.65" fill="#050505"/>
<circle cx="236.40" cy="446.20" r="2.65" fill="#050505"/>
<circle cx="206.40" cy="451.66" r="2.65" fill="#050505"/>
<circle cx="244.40" cy="457.12" r="2.65" fill="#050505"/>
<circle cx="240.90" cy="462.58" r="2.65" fill="#050505"/>
<circle cx="251.30" cy="468.04" r="2.65" fill="#f3de00"/>
<circle cx="191.20" cy="473.50" r="2.65" fill="#3cb71a"/>
<circle cx="186.40" cy="478.96" r="2.65" fill="#e3261c"/>
<circle cx="219.10" cy="484.41" r="2.65" fill="#050505"/>
<circle cx="216.30" cy="489.87" r="2.65" fill="#050505"/>
<circle cx="209.10" cy="495.33" r="2.65" fill="#050505"/>
<circle cx="244.90" cy="500.79" r="2.65" fill="#050505"/>
<circle cx="210.20" cy="517.17" r="2.65" fill="#050505"/>
<circle cx="239.60" cy="522.63" r="2.65" fill="#050505"/>
<circle cx="216.80" cy="533.55" r="2.65" fill="#050505"/>
<circle cx="229.20" cy="560.84" r="2.65" fill="#050505"/>
<circle cx="227.50" cy="599.05" r="2.65" fill="#050505"/>
<circle cx="370.70" cy="21.40" r="2.65" fill="#f3de00"/>
<circle cx="406.50" cy="26.85" r="2.65" fill="#050505"/>
<circle cx="413.90" cy="32.30" r="2.65" fill="#f3de00"/>
<circle cx="381.90" cy="37.75" r="2.65" fill="#050505"/>
<circle cx="390.10" cy="43.20" r="2.65" fill="#050505"/>
<circle cx="403.00" cy="48.66" r="2.65" fill="#050505"/>
<circle cx="378.40" cy="54.11" r="2.65" fill="#050505"/>
<circle cx="377.00" cy="59.56" r="2.65" fill="#050505"/>
<circle cx="367.50" cy="65.01" r="2.65" fill="#f3de00"/>
<circle cx="384.60" cy="70.46" r="2.65" fill="#050505"/>
<circle cx="359.20" cy="75.91" r="2.65" fill="#3cb71a"/>
<circle cx="370.00" cy="81.36" r="2.65" fill="#f3de00"/>
<circle cx="373.00" cy="86.81" r="2.65" fill="#050505"/>
<circle cx="361.60" cy="92.26" r="2.65" fill="#3cb71a"/>
<circle cx="378.70" cy="97.71" r="2.65" fill="#050505"/>
<circle cx="346.40" cy="103.16" r="2.65" fill="#e3261c"/>
<circle cx="382.20" cy="108.62" r="2.65" fill="#050505"/>
<circle cx="363.20" cy="114.07" r="2.65" fill="#3cb71a"/>
<circle cx="365.50" cy="119.52" r="2.65" fill="#f3de00"/>
<circle cx="362.00" cy="124.97" r="2.65" fill="#3cb71a"/>
<circle cx="366.50" cy="130.42" r="2.65" fill="#f3de00"/>
<circle cx="363.00" cy="135.87" r="2.65" fill="#3cb71a"/>
<circle cx="417.20" cy="141.32" r="2.65" fill="#f3de00"/>
<circle cx="379.90" cy="146.77" r="2.65" fill="#050505"/>
<circle cx="377.70" cy="152.22" r="2.65" fill="#050505"/>
<circle cx="414.40" cy="157.67" r="2.65" fill="#f3de00"/>
<circle cx="403.30" cy="163.13" r="2.65" fill="#050505"/>
<circle cx="417.40" cy="168.58" r="2.65" fill="#f3de00"/>
<circle cx="400.00" cy="174.03" r="2.65" fill="#050505"/>
<circle cx="421.70" cy="179.48" r="2.65" fill="#3cb71a"/>
<circle cx="364.30" cy="184.93" r="2.65" fill="#3cb71a"/>
<circle cx="414.70" cy="190.38" r="2.65" fill="#f3de00"/>
<circle cx="447.40" cy="195.83" r="2.65" fill="#e3261c"/>
<circle cx="413.90" cy="201.28" r="2.65" fill="#f3de00"/>
<circle cx="446.70" cy="206.73" r="2.65" fill="#e3261c"/>
<circle cx="461.30" cy="212.19" r="2.65" fill="#e3261c"/>
<circle cx="427.10" cy="217.64" r="2.65" fill="#e3261c"/>
<circle cx="423.90" cy="223.09" r="2.65" fill="#3cb71a"/>
<circle cx="431.80" cy="228.54" r="2.65" fill="#e3261c"/>
<circle cx="490.10" cy="233.99" r="2.65" fill="#e3261c"/>
<circle cx="475.20" cy="239.44" r="2.65" fill="#e3261c"/>
<circle cx="433.50" cy="244.89" r="2.65" fill="#e3261c"/>
<circle cx="445.00" cy="250.34" r="2.65" fill="#e3261c"/>
<circle cx="434.30" cy="255.79" r="2.65" fill="#e3261c"/>
<circle cx="446.70" cy="261.24" r="2.65" fill="#e3261c"/>
<circle cx="455.90" cy="266.69" r="2.65" fill="#e3261c"/>
<circle cx="460.10" cy="272.15" r="2.65" fill="#e3261c"/>
<circle cx="445.40" cy="277.60" r="2.65" fill="#e3261c"/>
<circle cx="421.60" cy="283.05" r="2.65" fill="#3cb71a"/>
<circle cx="430.80" cy="288.50" r="2.65" fill="#e3261c"/>
<circle cx="447.90" cy="293.95" r="2.65" fill="#e3261c"/>
<circle cx="411.20" cy="299.40" r="2.65" fill="#050505"/>
<circle cx="422.90" cy="304.85" r="2.65" fill="#3cb71a"/>
<circle cx="442.50" cy="310.30" r="2.65" fill="#e3261c"/>
<circle cx="461.80" cy="315.75" r="2.65" fill="#e3261c"/>
<circle cx="474.70" cy="321.20" r="2.65" fill="#e3261c"/>
<circle cx="464.30" cy="326.66" r="2.65" fill="#e3261c"/>
<circle cx="432.10" cy="332.11" r="2.65" fill="#e3261c"/>
<circle cx="448.30" cy="337.56" r="2.65" fill="#e3261c"/>
<circle cx="481.20" cy="343.01" r="2.65" fill="#e3261c"/>
<circle cx="405.40" cy="353.91" r="2.65" fill="#050505"/>
<circle cx="361.60" cy="359.36" r="2.65" fill="#3cb71a"/>
<circle cx="382.90" cy="364.81" r="2.65" fill="#050505"/>
<circle cx="377.70" cy="370.26" r="2.65" fill="#050505"/>
<circle cx="393.80" cy="375.71" r="2.65" fill="#050505"/>
<circle cx="403.30" cy="381.17" r="2.65" fill="#050505"/>
<circle cx="410.00" cy="386.62" r="2.65" fill="#050505"/>
<circle cx="383.60" cy="397.52" r="2.65" fill="#050505"/>
<circle cx="410.70" cy="402.97" r="2.65" fill="#050505"/>
<circle cx="365.30" cy="408.42" r="2.65" fill="#f3de00"/>
<circle cx="366.10" cy="413.87" r="2.65" fill="#f3de00"/>
<circle cx="388.80" cy="419.32" r="2.65" fill="#050505"/>
<circle cx="374.20" cy="424.77" r="2.65" fill="#050505"/>
<circle cx="381.50" cy="430.22" r="2.65" fill="#050505"/>
<circle cx="399.80" cy="435.68" r="2.65" fill="#050505"/>
<circle cx="368.30" cy="441.13" r="2.65" fill="#f3de00"/>
<circle cx="419.00" cy="446.58" r="2.65" fill="#f3de00"/>
<circle cx="405.30" cy="452.03" r="2.65" fill="#050505"/>
<circle cx="363.20" cy="457.48" r="2.65" fill="#3cb71a"/>
<circle cx="382.80" cy="462.93" r="2.65" fill="#050505"/>
<circle cx="395.60" cy="468.38" r="2.65" fill="#050505"/>
<circle cx="449.00" cy="473.83" r="2.65" fill="#e3261c"/>
<circle cx="487.30" cy="479.28" r="2.65" fill="#e3261c"/>
<circle cx="447.20" cy="484.73" r="2.65" fill="#e3261c"/>
<circle cx="417.70" cy="490.19" r="2.65" fill="#f3de00"/>
<circle cx="457.20" cy="495.64" r="2.65" fill="#e3261c"/>
<circle cx="375.50" cy="501.09" r="2.65" fill="#050505"/>
<circle cx="418.50" cy="506.54" r="2.65" fill="#f3de00"/>
<circle cx="439.00" cy="511.99" r="2.65" fill="#e3261c"/>
<circle cx="420.10" cy="517.44" r="2.65" fill="#3cb71a"/>
<circle cx="390.10" cy="522.89" r="2.65" fill="#050505"/>
<circle cx="428.30" cy="528.34" r="2.65" fill="#e3261c"/>
<circle cx="384.90" cy="533.79" r="2.65" fill="#050505"/>
<circle cx="389.10" cy="539.24" r="2.65" fill="#050505"/>
<circle cx="385.60" cy="544.70" r="2.65" fill="#050505"/>
<circle cx="392.30" cy="550.15" r="2.65" fill="#050505"/>
<circle cx="390.10" cy="555.60" r="2.65" fill="#050505"/>
<circle cx="383.90" cy="561.05" r="2.65" fill="#050505"/>
<circle cx="394.60" cy="566.50" r="2.65" fill="#050505"/>
<circle cx="414.40" cy="571.95" r="2.65" fill="#f3de00"/>
<circle cx="376.40" cy="577.40" r="2.65" fill="#050505"/>
<circle cx="408.00" cy="582.85" r="2.65" fill="#050505"/>
<circle cx="399.50" cy="588.30" r="2.65" fill="#050505"/>
<circle cx="387.90" cy="593.75" r="2.65" fill="#050505"/>
<circle cx="408.50" cy="599.21" r="2.65" fill="#050505"/>
<circle cx="398.30" cy="604.66" r="2.65" fill="#050505"/>
<circle cx="402.00" cy="610.11" r="2.65" fill="#050505"/>
<circle cx="393.80" cy="615.56" r="2.65" fill="#050505"/>
<circle cx="629.60" cy="21.40" r="2.65" fill="#050505"/>
<circle cx="607.30" cy="26.85" r="2.65" fill="#050505"/>
<circle cx="605.00" cy="32.30" r="2.65" fill="#050505"/>
<circle cx="617.90" cy="37.75" r="2.65" fill="#050505"/>
<circle cx="612.20" cy="43.20" r="2.65" fill="#050505"/>
<circle cx="613.70" cy="48.66" r="2.65" fill="#050505"/>
<circle cx="617.40" cy="54.11" r="2.65" fill="#050505"/>
<circle cx="641.30" cy="59.56" r="2.65" fill="#f3de00"/>
<circle cx="645.70" cy="65.01" r="2.65" fill="#3cb71a"/>
<circle cx="631.10" cy="70.46" r="2.65" fill="#050505"/>
<circle cx="628.40" cy="75.91" r="2.65" fill="#050505"/>
<circle cx="617.40" cy="81.36" r="2.65" fill="#050505"/>
<circle cx="611.00" cy="86.81" r="2.65" fill="#050505"/>
<circle cx="649.20" cy="92.26" r="2.65" fill="#e3261c"/>
<circle cx="637.80" cy="97.71" r="2.65" fill="#050505"/>
<circle cx="646.50" cy="103.16" r="2.65" fill="#3cb71a"/>
<circle cx="634.10" cy="108.62" r="2.65" fill="#050505"/>
<circle cx="628.10" cy="114.07" r="2.65" fill="#050505"/>
<circle cx="617.20" cy="119.52" r="2.65" fill="#050505"/>
<circle cx="614.50" cy="124.97" r="2.65" fill="#050505"/>
<circle cx="622.60" cy="130.42" r="2.65" fill="#050505"/>
<circle cx="617.70" cy="135.87" r="2.65" fill="#050505"/>
<circle cx="614.00" cy="141.32" r="2.65" fill="#050505"/>
<circle cx="621.40" cy="146.77" r="2.65" fill="#050505"/>
<circle cx="625.60" cy="152.22" r="2.65" fill="#050505"/>
<circle cx="623.90" cy="157.67" r="2.65" fill="#050505"/>
<circle cx="632.30" cy="163.13" r="2.65" fill="#050505"/>
<circle cx="624.10" cy="168.58" r="2.65" fill="#050505"/>
<circle cx="601.30" cy="174.03" r="2.65" fill="#f3de00"/>
<circle cx="579.00" cy="179.48" r="2.65" fill="#e3261c"/>
<circle cx="615.70" cy="184.93" r="2.65" fill="#050505"/>
<circle cx="616.70" cy="190.38" r="2.65" fill="#050505"/>
<circle cx="573.50" cy="195.83" r="2.65" fill="#e3261c"/>
<circle cx="605.30" cy="201.28" r="2.65" fill="#050505"/>
<circle cx="591.90" cy="206.73" r="2.65" fill="#e3261c"/>
<circle cx="538.00" cy="212.19" r="2.65" fill="#e3261c"/>
<circle cx="596.30" cy="217.64" r="2.65" fill="#3cb71a"/>
<circle cx="608.00" cy="223.09" r="2.65" fill="#050505"/>
<circle cx="603.30" cy="228.54" r="2.65" fill="#f3de00"/>
<circle cx="559.90" cy="233.99" r="2.65" fill="#e3261c"/>
<circle cx="520.10" cy="239.44" r="2.65" fill="#e3261c"/>
<circle cx="559.40" cy="244.89" r="2.65" fill="#e3261c"/>
<circle cx="567.30" cy="250.34" r="2.65" fill="#e3261c"/>
<circle cx="571.80" cy="255.79" r="2.65" fill="#e3261c"/>
<circle cx="580.70" cy="261.24" r="2.65" fill="#e3261c"/>
<circle cx="559.10" cy="266.69" r="2.65" fill="#e3261c"/>
<circle cx="522.60" cy="272.15" r="2.65" fill="#e3261c"/>
<circle cx="578.20" cy="277.60" r="2.65" fill="#e3261c"/>
<circle cx="597.80" cy="283.05" r="2.65" fill="#3cb71a"/>
<circle cx="582.90" cy="288.50" r="2.65" fill="#e3261c"/>
<circle cx="587.90" cy="293.95" r="2.65" fill="#e3261c"/>
<circle cx="613.00" cy="299.40" r="2.65" fill="#050505"/>
<circle cx="590.40" cy="304.85" r="2.65" fill="#e3261c"/>
<circle cx="578.70" cy="310.30" r="2.65" fill="#e3261c"/>
<circle cx="560.30" cy="315.75" r="2.65" fill="#e3261c"/>
<circle cx="561.60" cy="321.20" r="2.65" fill="#e3261c"/>
<circle cx="564.60" cy="326.66" r="2.65" fill="#e3261c"/>
<circle cx="589.40" cy="332.11" r="2.65" fill="#e3261c"/>
<circle cx="590.10" cy="337.56" r="2.65" fill="#e3261c"/>
<circle cx="594.60" cy="343.01" r="2.65" fill="#3cb71a"/>
<circle cx="623.60" cy="348.46" r="2.65" fill="#050505"/>
<circle cx="592.70" cy="353.91" r="2.65" fill="#e3261c"/>
<circle cx="620.70" cy="359.36" r="2.65" fill="#050505"/>
<circle cx="636.00" cy="364.81" r="2.65" fill="#050505"/>
<circle cx="623.60" cy="370.26" r="2.65" fill="#050505"/>
<circle cx="612.10" cy="375.71" r="2.65" fill="#050505"/>
<circle cx="592.60" cy="381.17" r="2.65" fill="#e3261c"/>
<circle cx="625.60" cy="386.62" r="2.65" fill="#050505"/>
<circle cx="633.30" cy="392.07" r="2.65" fill="#050505"/>
<circle cx="640.30" cy="397.52" r="2.65" fill="#f3de00"/>
<circle cx="606.60" cy="402.97" r="2.65" fill="#050505"/>
<circle cx="633.20" cy="408.42" r="2.65" fill="#050505"/>
<circle cx="617.40" cy="413.87" r="2.65" fill="#050505"/>
<circle cx="649.10" cy="419.32" r="2.65" fill="#e3261c"/>
<circle cx="644.00" cy="424.77" r="2.65" fill="#3cb71a"/>
<circle cx="614.50" cy="430.22" r="2.65" fill="#050505"/>
<circle cx="634.30" cy="435.68" r="2.65" fill="#050505"/>
<circle cx="625.10" cy="441.13" r="2.65" fill="#050505"/>
<circle cx="615.70" cy="446.58" r="2.65" fill="#050505"/>
<circle cx="647.20" cy="452.03" r="2.65" fill="#3cb71a"/>
<circle cx="663.60" cy="457.48" r="2.65" fill="#e3261c"/>
<circle cx="638.30" cy="462.93" r="2.65" fill="#f3de00"/>
<circle cx="643.20" cy="468.38" r="2.65" fill="#3cb71a"/>
<circle cx="572.00" cy="473.83" r="2.65" fill="#e3261c"/>
<circle cx="585.20" cy="479.28" r="2.65" fill="#e3261c"/>
<circle cx="611.50" cy="484.73" r="2.65" fill="#050505"/>
<circle cx="620.70" cy="490.19" r="2.65" fill="#050505"/>
<circle cx="616.90" cy="495.64" r="2.65" fill="#050505"/>
<circle cx="658.50" cy="501.09" r="2.65" fill="#e3261c"/>
<circle cx="597.80" cy="506.54" r="2.65" fill="#3cb71a"/>
<circle cx="610.50" cy="511.99" r="2.65" fill="#050505"/>
<circle cx="619.90" cy="517.44" r="2.65" fill="#050505"/>
<circle cx="643.20" cy="522.89" r="2.65" fill="#3cb71a"/>
<circle cx="603.30" cy="528.34" r="2.65" fill="#f3de00"/>
<circle cx="621.40" cy="533.79" r="2.65" fill="#050505"/>
<circle cx="629.60" cy="539.24" r="2.65" fill="#050505"/>
<circle cx="632.10" cy="544.70" r="2.65" fill="#050505"/>
<circle cx="640.30" cy="550.15" r="2.65" fill="#f3de00"/>
<circle cx="637.30" cy="555.60" r="2.65" fill="#050505"/>
<circle cx="624.90" cy="561.05" r="2.65" fill="#050505"/>
<circle cx="609.50" cy="566.50" r="2.65" fill="#050505"/>
<circle cx="621.40" cy="571.95" r="2.65" fill="#050505"/>
<circle cx="633.30" cy="577.40" r="2.65" fill="#050505"/>
<circle cx="631.30" cy="582.85" r="2.65" fill="#050505"/>
<circle cx="613.00" cy="588.30" r="2.65" fill="#050505"/>
<circle cx="633.10" cy="593.75" r="2.65" fill="#050505"/>
<circle cx="629.60" cy="599.21" r="2.65" fill="#050505"/>
<circle cx="627.10" cy="604.66" r="2.65" fill="#050505"/>
<circle cx="620.40" cy="610.11" r="2.65" fill="#050505"/>
<circle cx="619.20" cy="615.56" r="2.65" fill="#050505"/>
<text x="155.40" y="23.00" font-size="7.3" text-anchor="end" fill="#1a1a1a" color="#1a1a1a" >Anterior amygdalar area</text>
<text x="155.40" y="28.46" font-size="7.3" text-anchor="end" fill="#1a1a1a" color="#1a1a1a" >Basolateral amygdalar nucleus</text>
<text x="155.40" y="33.92" font-size="7.3" text-anchor="end" fill="#1a1a1a" color="#1a1a1a" >Central amygdalar nucleus</text>
<text x="155.40" y="39.38" font-size="7.3" text-anchor="end" fill="#1a1a1a" color="#1a1a1a" >Cortical amygdalar area</text>
<text x="155.40" y="44.84" font-size="7.3" text-anchor="end" fill="#1a1a1a" color="#1a1a1a" >Intercalated amygdalar nucleus</text>
<text x="155.40" y="50.29" font-size="7.3" text-anchor="end" fill="#1a1a1a" color="#1a1a1a" >Lateral amygdalar nucleus</text>
<text x="155.40" y="55.75" font-size="7.3" text-anchor="end" fill="#1a1a1a" color="#1a1a1a" >Posterior amygdalar nucleus</text>
<text x="155.40" y="61.21" font-size="7.3" text-anchor="end" fill="#1a1a1a" color="#1a1a1a" >Somatomotor areas</text>
<text x="155.40" y="66.67" font-size="7.3" text-anchor="end" fill="#1a1a1a" color="#1a1a1a" >Somatosensory areas</text>
<text x="155.40" y="72.13" font-size="7.3" text-anchor="end" fill="#1a1a1a" color="#1a1a1a" >Gustatory areas</text>
<text x="155.40" y="77.59" font-size="7.3" text-anchor="end" fill="#1a1a1a" color="#1a1a1a" >Visceral area</text>
<text x="155.40" y="83.05" font-size="7.3" text-anchor="end" fill="#1a1a1a" color="#1a1a1a" >Auditory areas</text>
<text x="155.40" y="88.51" font-size="7.3" text-anchor="end" fill="#1a1a1a" color="#1a1a1a" >Visual areas</text>
<text x="155.40" y="93.97" font-size="7.3" text-anchor="end" fill="#1a1a1a" color="#1a1a1a" >Anterior cingulate area</text>
<text x="155.40" y="99.43" font-size="7.3" text-anchor="end" fill="#1a1a1a" color="#1a1a1a" >Prelimbic area</text>
<text x="155.40" y="104.88" font-size="7.3" text-anchor="end" fill="#1a1a1a" color="#1a1a1a" >Infralimbic area</text>
<text x="155.40" y="110.34" font-size="7.3" text-anchor="end" fill="#1a1a1a" color="#1a1a1a" >Orbital area</text>
<text x="155.40" y="115.80" font-size="7.3" text-anchor="end" fill="#1a1a1a" color="#1a1a1a" >Retrosplenial area</text>
<text x="155.40" y="121.26" font-size="7.3" text-anchor="end" fill="#1a1a1a" color="#1a1a1a" >Posterior parietal association areas</text>
<text x="155.40" y="126.72" font-size="7.3" text-anchor="end" fill="#1a1a1a" color="#1a1a1a" >Temporal association areas</text>
<text x="155.40" y="132.18" font-size="7.3" text-anchor="end" fill="#1a1a1a" color="#1a1a1a" >Perirhinal area</text>
<text x="155.40" y="137.64" font-size="7.3" text-anchor="end" fill="#1a1a1a" color="#1a1a1a" >Ectorhinal area</text>
<text x="155.40" y="143.10" font-size="7.3" text-anchor="end" fill="#1a1a1a" color="#1a1a1a" >Hippocampal region</text>
<text x="155.40" y="148.56" font-size="7.3" text-anchor="end" fill="#1a1a1a" color="#1a1a1a" >Retrohippocampal region</text>
<text x="155.40" y="154.02" font-size="7.3" text-anchor="end" fill="#1a1a1a" color="#1a1a1a" >Endopiriform nucleus</text>
<text x="155.40" y="159.47" font-size="7.3" text-anchor="end" fill="#1a1a1a" color="#1a1a1a" >Caudoputamen</text>
<text x="155.40" y="164.93" font-size="7.3" text-anchor="end" fill="#1a1a1a" color="#1a1a1a" >Nucleus accumbens</text>
<text x="155.40" y="170.39" font-size="7.3" text-anchor="end" fill="#1a1a1a" color="#1a1a1a" >Fundus of striatum</text>
<text x="155.40" y="175.85" font-size="7.3" text-anchor="end" fill="#1a1a1a" color="#1a1a1a" >Lateral septal nucleus</text>
<text x="155.40" y="181.31" font-size="7.3" text-anchor="end" fill="#1a1a1a" color="#1a1a1a" >Septofimbrial nucleus</text>
<text x="155.40" y="186.77" font-size="7.3" text-anchor="end" fill="#1a1a1a" color="#1a1a1a" >Septohippocampal nucleus</text>
<text x="155.40" y="192.23" font-size="7.3" text-anchor="end" fill="#1a1a1a" color="#1a1a1a" >Pallidum</text>
<text x="155.40" y="197.69" font-size="7.3" text-anchor="end" fill="#1a1a1a" color="#1a1a1a" >Ventral anterior-lateral complex of the thalamus</text>
<text x="155.40" y="203.15" font-size="7.3" text-anchor="end" fill="#1a1a1a" color="#1a1a1a" >Ventral medial nucleus of the thalamus</text>
<text x="155.40" y="208.61" font-size="7.3" text-anchor="end" fill="#1a1a1a" color="#1a1a1a" >Ventral posterolateral nucleus of the thalamus</text>
<text x="155.40" y="214.06" font-size="7.3" text-anchor="end" fill="#1a1a1a" color="#1a1a1a" >Ventral posteromedial nucleus of the thalamus</text>
<text x="155.40" y="219.52" font-size="7.3" text-anchor="end" fill="#1a1a1a" color="#1a1a1a" >Posterior triangular thalamic nucleus</text>
<text x="155.40" y="224.98" font-size="7.3" text-anchor="end" fill="#1a1a1a" color="#1a1a1a" >Subparafascicular nucleus</text>
<text x="155.40" y="230.44" font-size="7.3" text-anchor="end" fill="#1a1a1a" color="#1a1a1a" >Subparafascicular area</text>
<text x="155.40" y="235.90" font-size="7.3" text-anchor="end" fill="#1a1a1a" color="#1a1a1a" >Lateral posterior nucleus of the thalamus</text>
<text x="155.40" y="241.36" font-size="7.3" text-anchor="end" fill="#1a1a1a" color="#1a1a1a" >Posterior complex of the thalamus</text>
<text x="155.40" y="246.82" font-size="7.3" text-anchor="end" fill="#1a1a1a" color="#1a1a1a" >Anteroventral nucleus of thalamus</text>
<text x="155.40" y="252.28" font-size="7.3" text-anchor="end" fill="#1a1a1a" color="#1a1a1a" >Anteromedial nucleus</text>
<text x="155.40" y="257.74" font-size="7.3" text-anchor="end" fill="#1a1a1a" color="#1a1a1a" >Anterodorsal nucleus</text>
<text x="155.40" y="263.20" font-size="7.3" text-anchor="end" fill="#1a1a1a" color="#1a1a1a" >Interanteromedial nucleus of the thalamus</text>
<text x="155.40" y="268.65" font-size="7.3" text-anchor="end" fill="#1a1a1a" color="#1a1a1a" >Interanterodorsal nucleus of the thalamus</text>
<text x="155.40" y="274.11" font-size="7.3" text-anchor="end" fill="#1a1a1a" color="#1a1a1a" >Lateral dorsal nucleus of thalamus</text>
<text x="155.40" y="279.57" font-size="7.3" text-anchor="end" fill="#1a1a1a" color="#1a1a1a" >Intermediodorsal nucleus of the thalamus</text>
<text x="155.40" y="285.03" font-size="7.3" text-anchor="end" fill="#1a1a1a" color="#1a1a1a" >Submedial nucleus of the thalamus</text>
<text x="155.40" y="290.49" font-size="7.3" text-anchor="end" fill="#1a1a1a" color="#1a1a1a" >Parataenial nucleus</text>
<text x="155.40" y="295.95" font-size="7.3" text-anchor="end" fill="#1a1a1a" color="#1a1a1a" >Paraventricular nucleus of the thalamus</text>
<text x="155.40" y="301.41" font-size="7.3" text-anchor="end" fill="#1a1a1a" color="#1a1a1a" >Nucleus of reuniens</text>
<text x="155.40" y="306.87" font-size="7.3" text-anchor="end" fill="#1a1a1a" color="#1a1a1a" >Rhomboid nucleus</text>
<text x="155.40" y="312.33" font-size="7.3" text-anchor="end" fill="#1a1a1a" color="#1a1a1a" >Central medial nucleus of the thalamus</text>
<text x="155.40" y="317.79" font-size="7.3" text-anchor="end" fill="#1a1a1a" color="#1a1a1a" >Paracentral nucleus</text>
<text x="155.40" y="323.25" font-size="7.3" text-anchor="end" fill="#1a1a1a" color="#1a1a1a" >Central lateral nucleus of the thalamus</text>
<text x="155.40" y="328.70" font-size="7.3" text-anchor="end" fill="#1a1a1a" color="#1a1a1a" >Parafascicular nucleus</text>
<text x="155.40" y="334.16" font-size="7.3" text-anchor="end" fill="#1a1a1a" color="#1a1a1a" >Reticular nucleus of the thalamus</text>
<text x="155.40" y="339.62" font-size="7.3" text-anchor="end" fill="#1a1a1a" color="#1a1a1a" >Medial habenula</text>
<text x="155.40" y="345.08" font-size="7.3" text-anchor="end" fill="#1a1a1a" color="#1a1a1a" >Lateral habenula</text>
<text x="155.40" y="350.54" font-size="7.3" text-anchor="end" fill="#1a1a1a" color="#1a1a1a" >Arcuate hypothalamic nucleus</text>
<text x="155.40" y="356.00" font-size="7.3" text-anchor="end" fill="#1a1a1a" color="#1a1a1a" >Anterodorsal preoptic nucleus</text>
<text x="155.40" y="361.46" font-size="7.3" text-anchor="end" fill="#1a1a1a" color="#1a1a1a" >Anteroventral preoptic nucleus</text>
<text x="155.40" y="366.92" font-size="7.3" text-anchor="end" fill="#1a1a1a" color="#1a1a1a" >Anteroventral periventricular nucleus</text>
<text x="155.40" y="372.38" font-size="7.3" text-anchor="end" fill="#1a1a1a" color="#1a1a1a" >Medial preoptic area</text>
<text x="155.40" y="377.83" font-size="7.3" text-anchor="end" fill="#1a1a1a" color="#1a1a1a" >Posterodorsal preoptic nucleus</text>
<text x="155.40" y="383.29" font-size="7.3" text-anchor="end" fill="#1a1a1a" color="#1a1a1a" >Parastrial nucleus</text>
<text x="155.40" y="388.75" font-size="7.3" text-anchor="end" fill="#1a1a1a" color="#1a1a1a" >Suprachiasmatic nucleus</text>
<text x="155.40" y="394.21" font-size="7.3" text-anchor="end" fill="#1a1a1a" color="#1a1a1a" >Ventrolateral preoptic nucleus</text>
<text x="155.40" y="399.67" font-size="7.3" text-anchor="end" fill="#1a1a1a" color="#1a1a1a" >Mammillary body</text>
<text x="155.40" y="405.13" font-size="7.3" text-anchor="end" fill="#1a1a1a" color="#1a1a1a" >Median preoptic nucleus</text>
<text x="155.40" y="410.59" font-size="7.3" text-anchor="end" fill="#1a1a1a" color="#1a1a1a" >Dorsal premammillary nucleus</text>
<text x="155.40" y="416.05" font-size="7.3" text-anchor="end" fill="#1a1a1a" color="#1a1a1a" >Ventral premammillary nucleus</text>
<text x="155.40" y="421.51" font-size="7.3" text-anchor="end" fill="#1a1a1a" color="#1a1a1a" >Lateral hypothalamic area</text>
<text x="155.40" y="426.97" font-size="7.3" text-anchor="end" fill="#1a1a1a" color="#1a1a1a" >Lateral preoptic area</text>
<text x="155.40" y="432.42" font-size="7.3" text-anchor="end" fill="#1a1a1a" color="#1a1a1a" >Retrochiasmatic area</text>
<text x="155.40" y="437.88" font-size="7.3" text-anchor="end" fill="#1a1a1a" color="#1a1a1a" >Subthalamic nucleus</text>
<text x="155.40" y="443.34" font-size="7.3" text-anchor="end" fill="#1a1a1a" color="#1a1a1a" >Tuberal nucleus</text>
<text x="155.40" y="448.80" font-size="7.3" text-anchor="end" fill="#1a1a1a" color="#1a1a1a" >Zona incerta</text>
<text x="155.40" y="454.26" font-size="7.3" text-anchor="end" fill="#1a1a1a" color="#1a1a1a" >Nucleus of the brachium of the inferior colliculus</text>
<text x="155.40" y="459.72" font-size="7.3" text-anchor="end" fill="#1a1a1a" color="#1a1a1a" >Nucleus sagulum</text>
<text x="155.40" y="465.18" font-size="7.3" text-anchor="end" fill="#1a1a1a" color="#1a1a1a" >Parabigeminal nucleus</text>
<text x="155.40" y="470.64" font-size="7.3" text-anchor="end" fill="#1a1a1a" color="#1a1a1a" >Ventral tegmental area</text>
<text x="155.40" y="476.10" font-size="7.3" text-anchor="end" fill="#1a1a1a" color="#1a1a1a" >Periaqueductal gray</text>
<text x="155.40" y="481.56" font-size="7.3" text-anchor="end" fill="#1a1a1a" color="#1a1a1a" >Pretectal region</text>
<text x="155.40" y="487.01" font-size="7.3" text-anchor="end" fill="#1a1a1a" color="#1a1a1a" >Cuneiform nucleus</text>
<text x="155.40" y="492.47" font-size="7.3" text-anchor="end" fill="#1a1a1a" color="#1a1a1a" >Red nucleus</text>
<text x="155.40" y="497.93" font-size="7.3" text-anchor="end" fill="#1a1a1a" color="#1a1a1a" >Oculomotor nucleus</text>
<text x="155.40" y="503.39" font-size="7.3" text-anchor="end" fill="#1a1a1a" color="#1a1a1a" >Paratrochlear nucleus</text>
<text x="155.40" y="508.85" font-size="7.3" text-anchor="end" fill="#1a1a1a" color="#1a1a1a" >Ventral tegmental nucleus</text>
<text x="155.40" y="514.31" font-size="7.3" text-anchor="end" fill="#1a1a1a" color="#1a1a1a" >Anterior tegmental nucleus</text>
<text x="155.40" y="519.77" font-size="7.3" text-anchor="end" fill="#1a1a1a" color="#1a1a1a" >Pedunculopontine nucleus</text>
<text x="155.40" y="525.23" font-size="7.3" text-anchor="end" fill="#1a1a1a" color="#1a1a1a" >Midbrain raphe nuclei</text>
<text x="155.40" y="530.69" font-size="7.3" text-anchor="end" fill="#1a1a1a" color="#1a1a1a" >Parabrachial nucleus</text>
<text x="155.40" y="536.15" font-size="7.3" text-anchor="end" fill="#1a1a1a" color="#1a1a1a" >Superior olivary complex</text>
<text x="155.40" y="541.61" font-size="7.3" text-anchor="end" fill="#1a1a1a" color="#1a1a1a" >Barrington&#39;s nucleus</text>
<text x="155.40" y="547.06" font-size="7.3" text-anchor="end" fill="#1a1a1a" color="#1a1a1a" >Dorsal tegmental nucleus</text>
<text x="155.40" y="552.52" font-size="7.3" text-anchor="end" fill="#1a1a1a" color="#1a1a1a" >Posterodorsal tegmental nucleus</text>
<text x="155.40" y="557.98" font-size="7.3" text-anchor="end" fill="#1a1a1a" color="#1a1a1a" >Pontine central gray</text>
<text x="155.40" y="563.44" font-size="7.3" text-anchor="end" fill="#1a1a1a" color="#1a1a1a" >Pontine gray</text>
<text x="155.40" y="568.90" font-size="7.3" text-anchor="end" fill="#1a1a1a" color="#1a1a1a" >Supragenual nucleus</text>
<text x="155.40" y="574.36" font-size="7.3" text-anchor="end" fill="#1a1a1a" color="#1a1a1a" >Supratrigeminal nucleus</text>
<text x="155.40" y="579.82" font-size="7.3" text-anchor="end" fill="#1a1a1a" color="#1a1a1a" >Tegmental reticular nucleus</text>
<text x="155.40" y="585.28" font-size="7.3" text-anchor="end" fill="#1a1a1a" color="#1a1a1a" >Motor nucleus of trigeminal</text>
<text x="155.40" y="590.74" font-size="7.3" text-anchor="end" fill="#1a1a1a" color="#1a1a1a" >Laterodorsal tegmental nucleus</text>
<text x="155.40" y="596.19" font-size="7.3" text-anchor="end" fill="#1a1a1a" color="#1a1a1a" >Nucleus incertus</text>
<text x="155.40" y="601.65" font-size="7.3" text-anchor="end" fill="#1a1a1a" color="#1a1a1a" >Pontine reticular nucleus</text>
<text x="155.40" y="607.11" font-size="7.3" text-anchor="end" fill="#1a1a1a" color="#1a1a1a" >Nucleus raphe pontis</text>
<text x="155.40" y="612.57" font-size="7.3" text-anchor="end" fill="#1a1a1a" color="#1a1a1a" >Subceruleus nucleus</text>
<text x="155.40" y="618.03" font-size="7.3" text-anchor="end" fill="#1a1a1a" color="#1a1a1a" >Sublaterodorsal nucleus</text>
<text x="249.40" y="8.90" font-size="11.55" text-anchor="middle" fill="#111" color="#111" >Bilateral Crus I effect on reversal</text>
<text x="417.50" y="8.90" font-size="11.55" text-anchor="middle" fill="#111" color="#111" >Reversal over no reversal</text>
<text x="592.50" y="8.90" font-size="11.55" text-anchor="middle" fill="#111" color="#111" >Lobule VI effect on reversal</text>
<text x="234.70" y="651.80" font-size="11.55" text-anchor="middle" fill="#111" color="#111" >Effect size</text>
<text x="419.30" y="651.80" font-size="11.55" text-anchor="middle" fill="#111" color="#111" >Effect size</text>
<text x="595.20" y="651.80" font-size="11.55" text-anchor="middle" fill="#111" color="#111" >Effect size</text>
<text transform="translate(674.3,109.40) rotate(90)" font-size="10.5" text-anchor="middle" fill="#111" color="#111">Telencephalon</text>
<text transform="translate(674.3,269.50) rotate(90)" font-size="10.5" text-anchor="middle" fill="#111" color="#111">Diencephalon</text>
<text transform="translate(674.3,456.40) rotate(90)" font-size="10.5" text-anchor="middle" fill="#111" color="#111">Mesencephalon</text>
<text transform="translate(674.3,572.50) rotate(90)" font-size="10.5" text-anchor="middle" fill="#111" color="#111">Metencephalon</text>
<text x="12.20" y="20.80" font-size="28.5" text-anchor="start" fill="#000" color="#000" >a</text>
<text x="12.50" y="677.00" font-size="28.5" text-anchor="start" fill="#000" color="#000" >b</text>
<text x="351.60" y="677.00" font-size="28.5" text-anchor="start" fill="#000" color="#000" >c</text>
<text x="162.00" y="67.10" font-size="9.2" text-anchor="start" fill="#1a1a1a" color="#1a1a1a" >Visceral</text>
<text x="175.50" y="88.50" font-size="9.2" text-anchor="start" fill="#1a1a1a" color="#1a1a1a" >Visual</text>
<text x="198.50" y="94.50" font-size="9.2" text-anchor="start" fill="#1a1a1a" color="#1a1a1a" >Anterior cingulate</text>
<text x="277.70" y="99.90" font-size="9.2" text-anchor="start" fill="#1a1a1a" color="#1a1a1a" >Prelimbic</text>
<text x="241.60" y="104.80" font-size="9.2" text-anchor="start" fill="#1a1a1a" color="#1a1a1a" >Infralimbic</text>
<text x="268.90" y="112.50" font-size="9.2" text-anchor="start" fill="#1a1a1a" color="#1a1a1a" >Orbital</text>
<text x="235.40" y="350.40" font-size="9.2" text-anchor="start" fill="#1a1a1a" color="#1a1a1a" >Anteroventral preoptic</text>
<text x="249.80" y="372.50" font-size="9.2" text-anchor="start" fill="#1a1a1a" color="#1a1a1a" >Medial preoptic</text>
<text x="273.30" y="383.40" font-size="9.2" text-anchor="start" fill="#1a1a1a" color="#1a1a1a" >Parastrial</text>
<text x="188.30" y="421.40" font-size="9.2" text-anchor="start" fill="#1a1a1a" color="#1a1a1a" >Lateral hypothalamus</text>
<text x="243.50" y="428.60" font-size="9.2" text-anchor="start" fill="#1a1a1a" color="#1a1a1a" >Lateral preoptic</text>
<text x="162.20" y="494.30" font-size="9.2" text-anchor="start" fill="#1a1a1a" color="#1a1a1a" >Pretectal</text>
<text x="383.90" y="64.20" font-size="9.2" text-anchor="start" fill="#1a1a1a" color="#1a1a1a" >Somatosensory</text>
<text x="374.00" y="84.40" font-size="9.2" text-anchor="start" fill="#1a1a1a" color="#1a1a1a" >Auditory</text>
<text x="369.90" y="121.40" font-size="9.2" text-anchor="start" fill="#1a1a1a" color="#1a1a1a" >Posterior parietal association</text>
<text x="368.10" y="128.00" font-size="9.2" text-anchor="start" fill="#1a1a1a" color="#1a1a1a" >Temporal association</text>
<text x="369.90" y="138.90" font-size="9.2" text-anchor="start" fill="#1a1a1a" color="#1a1a1a" >Ectorhinal</text>
<text x="421.80" y="144.40" font-size="9.2" text-anchor="start" fill="#1a1a1a" color="#1a1a1a" >Hippocampal region</text>
<text x="363.80" y="182.10" font-size="9.2" text-anchor="start" fill="#1a1a1a" color="#1a1a1a" >Septofimbrial</text>
<text x="407.80" y="346.70" font-size="9.2" text-anchor="start" fill="#1a1a1a" color="#1a1a1a" >Lateral habenula</text>
<text x="369.90" y="412.80" font-size="9.2" text-anchor="start" fill="#1a1a1a" color="#1a1a1a" >Dorsal premammillary</text>
<text x="340.70" y="449.80" font-size="9.2" text-anchor="start" fill="#1a1a1a" color="#1a1a1a" >Nucleus sagulum</text>
<text x="407.70" y="465.90" font-size="9.2" text-anchor="start" fill="#1a1a1a" color="#1a1a1a" >Periaqueductal gray</text>
<text x="451.00" y="488.30" font-size="9.2" text-anchor="start" fill="#1a1a1a" color="#1a1a1a" >Cuneiform</text>
<text x="405.90" y="498.40" font-size="9.2" text-anchor="start" fill="#1a1a1a" color="#1a1a1a" >Oculomotor</text>
<text x="342.30" y="510.00" font-size="9.2" text-anchor="start" fill="#1a1a1a" color="#1a1a1a" >Ventral tegmental</text>
<text x="443.10" y="515.80" font-size="9.2" text-anchor="start" fill="#1a1a1a" color="#1a1a1a" >Anterior</text>
<text x="438.80" y="522.30" font-size="9.2" text-anchor="start" fill="#1a1a1a" color="#1a1a1a" >tegmental</text>
<text x="372.00" y="531.50" font-size="9.2" text-anchor="start" fill="#1a1a1a" color="#1a1a1a" >Parabrachial</text>
<text x="520.50" y="367.60" font-size="9.2" text-anchor="start" fill="#1a1a1a" color="#1a1a1a" >Anterodorsal preoptic</text>
<text x="550.00" y="383.20" font-size="9.2" text-anchor="start" fill="#1a1a1a" color="#1a1a1a" >Parastrial</text>
<text x="571.80" y="415.70" font-size="9.2" text-anchor="start" fill="#1a1a1a" color="#1a1a1a" >Lateral</text>
<text x="558.50" y="423.10" font-size="9.2" text-anchor="start" fill="#1a1a1a" color="#1a1a1a" >hypothalamus</text>
<text x="599.90" y="503.40" font-size="9.2" text-anchor="start" fill="#1a1a1a" color="#1a1a1a" >Paratrochlear</text>
<line x1="189.60" y1="66.60" x2="191.50" y2="72.30" stroke="#000" stroke-width="0.95" />
<line x1="292.00" y1="353.00" x2="294.70" y2="356.90" stroke="#000" stroke-width="0.95" />
<line x1="179.90" y1="486.50" x2="185.20" y2="482.30" stroke="#000" stroke-width="0.95" />
<line x1="352.80" y1="450.90" x2="360.60" y2="455.60" stroke="#000" stroke-width="0.95" />
<line x1="452.80" y1="467.70" x2="451.00" y2="471.20" stroke="#000" stroke-width="0.95" />
<line x1="591.30" y1="356.90" x2="588.90" y2="361.20" stroke="#000" stroke-width="0.95" />
<line x1="615.40" y1="422.50" x2="644.80" y2="419.60" stroke="#000" stroke-width="0.95" />
<line x1="31.00" y1="688.50" x2="31.00" y2="931.60" stroke="#333" stroke-width="1.5" />
<line x1="30.30" y1="930.90" x2="307.80" y2="930.90" stroke="#333" stroke-width="1.5" />
<line x1="55.90" y1="930.90" x2="55.90" y2="933.60" stroke="#333" stroke-width="1.1" />
<text x="55.90" y="946.00" font-size="13.7" text-anchor="middle" fill="#111" color="#111" >−5</text>
<line x1="136.80" y1="930.90" x2="136.80" y2="933.60" stroke="#333" stroke-width="1.1" />
<text x="136.80" y="946.00" font-size="13.7" text-anchor="middle" fill="#111" color="#111" >0</text>
<line x1="217.70" y1="930.90" x2="217.70" y2="933.60" stroke="#333" stroke-width="1.1" />
<text x="217.70" y="946.00" font-size="13.7" text-anchor="middle" fill="#111" color="#111" >5</text>
<line x1="298.60" y1="930.90" x2="298.60" y2="933.60" stroke="#333" stroke-width="1.1" />
<text x="298.60" y="946.00" font-size="13.7" text-anchor="middle" fill="#111" color="#111" >10</text>
<line x1="28.90" y1="930.55" x2="31.00" y2="930.55" stroke="#333" stroke-width="1.1" />
<text x="27.80" y="933.35" font-size="13.7" text-anchor="end" fill="#111" color="#111" >−5</text>
<line x1="28.90" y1="851.40" x2="31.00" y2="851.40" stroke="#333" stroke-width="1.1" />
<text x="27.80" y="854.20" font-size="13.7" text-anchor="end" fill="#111" color="#111" >0</text>
<line x1="28.90" y1="772.25" x2="31.00" y2="772.25" stroke="#333" stroke-width="1.1" />
<text x="27.80" y="775.05" font-size="13.7" text-anchor="end" fill="#111" color="#111" >5</text>
<line x1="28.90" y1="693.10" x2="31.00" y2="693.10" stroke="#333" stroke-width="1.1" />
<text x="27.80" y="695.90" font-size="13.7" text-anchor="end" fill="#111" color="#111" >10</text>
<text x="175.60" y="964.00" font-size="14" text-anchor="middle" fill="#111" color="#111" >ln(Bilateral Crus I / Control)</text>
<text transform="translate(14.6,810.4) rotate(-90)" font-size="14" text-anchor="middle" fill="#111" color="#111">ln(reversal / no reversal)</text>
<line x1="382.50" y1="690.00" x2="382.50" y2="930.80" stroke="#111" stroke-width="1.1" />
<line x1="382.00" y1="930.30" x2="673.00" y2="930.30" stroke="#111" stroke-width="1.1" />
<line x1="427.00" y1="930.30" x2="427.00" y2="932.90" stroke="#111" stroke-width="1.0" />
<text x="427.00" y="945.60" font-size="13.7" text-anchor="middle" fill="#111" color="#111" >−10</text>
<line x1="504.60" y1="930.30" x2="504.60" y2="932.90" stroke="#111" stroke-width="1.0" />
<text x="504.60" y="945.60" font-size="13.7" text-anchor="middle" fill="#111" color="#111" >−5</text>
<line x1="582.20" y1="930.30" x2="582.20" y2="932.90" stroke="#111" stroke-width="1.0" />
<text x="582.20" y="945.60" font-size="13.7" text-anchor="middle" fill="#111" color="#111" >0</text>
<line x1="659.80" y1="930.30" x2="659.80" y2="932.90" stroke="#111" stroke-width="1.0" />
<text x="659.80" y="945.60" font-size="13.7" text-anchor="middle" fill="#111" color="#111" >5</text>
<line x1="380.50" y1="929.55" x2="382.50" y2="929.55" stroke="#111" stroke-width="1.0" />
<text x="379.30" y="932.35" font-size="13.7" text-anchor="end" fill="#111" color="#111" >−5</text>
<line x1="380.50" y1="850.40" x2="382.50" y2="850.40" stroke="#111" stroke-width="1.0" />
<text x="379.30" y="853.20" font-size="13.7" text-anchor="end" fill="#111" color="#111" >0</text>
<line x1="380.50" y1="771.25" x2="382.50" y2="771.25" stroke="#111" stroke-width="1.0" />
<text x="379.30" y="774.05" font-size="13.7" text-anchor="end" fill="#111" color="#111" >5</text>
<line x1="380.50" y1="692.10" x2="382.50" y2="692.10" stroke="#111" stroke-width="1.0" />
<text x="379.30" y="694.90" font-size="13.7" text-anchor="end" fill="#111" color="#111" >10</text>
<text x="514.50" y="964.00" font-size="14" text-anchor="middle" fill="#111" color="#111" >ln(Lobule VI / Control)</text>
<text transform="translate(365.5,806.4) rotate(-90)" font-size="14" text-anchor="middle" fill="#111" color="#111">ln(reversal / no reversal)</text>
<circle cx="152.86" cy="883.53" r="2.45" fill="#000"/>
<circle cx="597.01" cy="882.87" r="2.45" fill="#000"/>
<circle cx="127.25" cy="829.61" r="2.45" fill="#000"/>
<circle cx="556.01" cy="828.72" r="2.45" fill="#000"/>
<circle cx="129.07" cy="818.47" r="2.45" fill="#000"/>
<circle cx="551.78" cy="817.53" r="2.45" fill="#000"/>
<circle cx="117.34" cy="866.66" r="2.45" fill="#000"/>
<circle cx="575.50" cy="865.93" r="2.45" fill="#000"/>
<circle cx="157.15" cy="854.31" r="2.45" fill="#000"/>
<circle cx="565.02" cy="853.53" r="2.45" fill="#000"/>
<circle cx="115.36" cy="834.88" r="2.45" fill="#000"/>
<circle cx="567.77" cy="834.02" r="2.45" fill="#000"/>
<circle cx="119.82" cy="871.94" r="2.45" fill="#000"/>
<circle cx="574.58" cy="871.22" r="2.45" fill="#000"/>
<circle cx="186.22" cy="874.05" r="2.45" fill="#000"/>
<circle cx="618.52" cy="873.34" r="2.45" fill="#000"/>
<circle cx="130.89" cy="888.35" r="2.45" fill="#000"/>
<circle cx="626.61" cy="887.71" r="2.45" fill="#000"/>
<circle cx="124.78" cy="862.60" r="2.45" fill="#000"/>
<circle cx="599.77" cy="861.85" r="2.45" fill="#000"/>
<circle cx="83.81" cy="900.86" r="2.45" fill="#000"/>
<circle cx="594.80" cy="900.26" r="2.45" fill="#000"/>
<circle cx="43.51" cy="884.59" r="2.45" fill="#000"/>
<circle cx="574.58" cy="883.93" r="2.45" fill="#000"/>
<circle cx="50.61" cy="880.07" r="2.45" fill="#000"/>
<circle cx="562.81" cy="879.39" r="2.45" fill="#000"/>
<circle cx="220.08" cy="897.24" r="2.45" fill="#000"/>
<circle cx="633.05" cy="896.63" r="2.45" fill="#000"/>
<circle cx="219.59" cy="871.48" r="2.45" fill="#000"/>
<circle cx="612.09" cy="870.77" r="2.45" fill="#000"/>
<circle cx="240.89" cy="920.14" r="2.45" fill="#000"/>
<circle cx="628.08" cy="919.62" r="2.45" fill="#000"/>
<circle cx="205.22" cy="866.21" r="2.45" fill="#000"/>
<circle cx="605.28" cy="865.48" r="2.45" fill="#000"/>
<circle cx="112.88" cy="894.83" r="2.45" fill="#000"/>
<circle cx="594.25" cy="894.21" r="2.45" fill="#000"/>
<circle cx="60.86" cy="891.37" r="2.45" fill="#000"/>
<circle cx="574.21" cy="890.73" r="2.45" fill="#000"/>
<circle cx="69.77" cy="896.64" r="2.45" fill="#000"/>
<circle cx="569.25" cy="896.03" r="2.45" fill="#000"/>
<circle cx="99.67" cy="889.86" r="2.45" fill="#000"/>
<circle cx="584.14" cy="889.22" r="2.45" fill="#000"/>
<circle cx="88.60" cy="895.13" r="2.45" fill="#000"/>
<circle cx="575.13" cy="894.51" r="2.45" fill="#000"/>
<circle cx="94.05" cy="813.50" r="2.45" fill="#000"/>
<circle cx="568.33" cy="812.54" r="2.45" fill="#000"/>
<circle cx="88.27" cy="869.68" r="2.45" fill="#000"/>
<circle cx="581.93" cy="868.95" r="2.45" fill="#000"/>
<circle cx="103.80" cy="872.99" r="2.45" fill="#000"/>
<circle cx="589.65" cy="872.28" r="2.45" fill="#000"/>
<circle cx="151.04" cy="817.71" r="2.45" fill="#000"/>
<circle cx="586.53" cy="816.78" r="2.45" fill="#000"/>
<circle cx="180.11" cy="834.43" r="2.45" fill="#000"/>
<circle cx="601.97" cy="833.56" r="2.45" fill="#000"/>
<circle cx="141.96" cy="813.19" r="2.45" fill="#000"/>
<circle cx="586.90" cy="812.24" r="2.45" fill="#000"/>
<circle cx="144.10" cy="839.40" r="2.45" fill="#000"/>
<circle cx="544.97" cy="838.55" r="2.45" fill="#000"/>
<circle cx="119.49" cy="806.72" r="2.45" fill="#000"/>
<circle cx="503.97" cy="805.73" r="2.45" fill="#000"/>
<circle cx="162.44" cy="893.17" r="2.45" fill="#000"/>
<circle cx="571.45" cy="892.55" r="2.45" fill="#000"/>
<circle cx="167.39" cy="817.26" r="2.45" fill="#000"/>
<circle cx="573.29" cy="816.32" r="2.45" fill="#000"/>
<circle cx="116.52" cy="768.01" r="2.45" fill="#000"/>
<circle cx="493.86" cy="766.86" r="2.45" fill="#000"/>
<circle cx="169.04" cy="818.47" r="2.45" fill="#000"/>
<circle cx="552.33" cy="817.53" r="2.45" fill="#000"/>
<circle cx="126.43" cy="769.06" r="2.45" fill="#000"/>
<circle cx="527.69" cy="767.92" r="2.45" fill="#000"/>
<circle cx="90.26" cy="747.07" r="2.45" fill="#000"/>
<circle cx="428.59" cy="745.84" r="2.45" fill="#000"/>
<circle cx="89.43" cy="798.58" r="2.45" fill="#000"/>
<circle cx="535.78" cy="797.57" r="2.45" fill="#000"/>
<circle cx="134.52" cy="803.40" r="2.45" fill="#000"/>
<circle cx="557.29" cy="802.41" r="2.45" fill="#000"/>
<circle cx="143.28" cy="791.50" r="2.45" fill="#000"/>
<circle cx="548.65" cy="790.46" r="2.45" fill="#000"/>
<circle cx="113.71" cy="703.69" r="2.45" fill="#000"/>
<circle cx="468.85" cy="702.28" r="2.45" fill="#000"/>
<circle cx="98.51" cy="726.13" r="2.45" fill="#000"/>
<circle cx="395.67" cy="724.82" r="2.45" fill="#000"/>
<circle cx="130.06" cy="788.94" r="2.45" fill="#000"/>
<circle cx="467.93" cy="787.89" r="2.45" fill="#000"/>
<circle cx="133.37" cy="771.62" r="2.45" fill="#000"/>
<circle cx="482.46" cy="770.49" r="2.45" fill="#000"/>
<circle cx="140.30" cy="787.74" r="2.45" fill="#000"/>
<circle cx="490.73" cy="786.68" r="2.45" fill="#000"/>
<circle cx="140.80" cy="769.06" r="2.45" fill="#000"/>
<circle cx="507.10" cy="767.92" r="2.45" fill="#000"/>
<circle cx="160.45" cy="755.20" r="2.45" fill="#000"/>
<circle cx="467.38" cy="754.01" r="2.45" fill="#000"/>
<circle cx="92.40" cy="748.88" r="2.45" fill="#000"/>
<circle cx="400.27" cy="747.66" r="2.45" fill="#000"/>
<circle cx="128.08" cy="771.02" r="2.45" fill="#000"/>
<circle cx="502.50" cy="769.89" r="2.45" fill="#000"/>
<circle cx="138.32" cy="806.87" r="2.45" fill="#000"/>
<circle cx="538.54" cy="805.89" r="2.45" fill="#000"/>
<circle cx="148.89" cy="793.01" r="2.45" fill="#000"/>
<circle cx="511.14" cy="791.97" r="2.45" fill="#000"/>
<circle cx="169.04" cy="767.25" r="2.45" fill="#000"/>
<circle cx="520.34" cy="766.11" r="2.45" fill="#000"/>
<circle cx="165.41" cy="822.53" r="2.45" fill="#000"/>
<circle cx="566.49" cy="821.61" r="2.45" fill="#000"/>
<circle cx="134.52" cy="804.91" r="2.45" fill="#000"/>
<circle cx="524.93" cy="803.92" r="2.45" fill="#000"/>
<circle cx="126.43" cy="775.39" r="2.45" fill="#000"/>
<circle cx="503.42" cy="774.28" r="2.45" fill="#000"/>
<circle cx="116.52" cy="746.32" r="2.45" fill="#000"/>
<circle cx="469.59" cy="745.09" r="2.45" fill="#000"/>
<circle cx="136.17" cy="726.89" r="2.45" fill="#000"/>
<circle cx="471.98" cy="725.57" r="2.45" fill="#000"/>
<circle cx="132.21" cy="742.55" r="2.45" fill="#000"/>
<circle cx="477.50" cy="741.30" r="2.45" fill="#000"/>
<circle cx="136.67" cy="791.05" r="2.45" fill="#000"/>
<circle cx="523.09" cy="790.00" r="2.45" fill="#000"/>
<circle cx="132.54" cy="766.65" r="2.45" fill="#000"/>
<circle cx="524.38" cy="765.50" r="2.45" fill="#000"/>
<circle cx="136.67" cy="717.10" r="2.45" fill="#000"/>
<circle cx="532.66" cy="715.74" r="2.45" fill="#000"/>
<circle cx="159.63" cy="831.27" r="2.45" fill="#000"/>
<circle cx="529.16" cy="830.39" r="2.45" fill="#000"/>
<circle cx="255.26" cy="897.24" r="2.45" fill="#000"/>
<circle cx="580.65" cy="896.63" r="2.45" fill="#000"/>
<circle cx="166.90" cy="865.16" r="2.45" fill="#000"/>
<circle cx="608.78" cy="864.42" r="2.45" fill="#000"/>
<circle cx="289.29" cy="872.99" r="2.45" fill="#000"/>
<circle cx="585.98" cy="872.28" r="2.45" fill="#000"/>
<circle cx="171.36" cy="848.74" r="2.45" fill="#000"/>
<circle cx="564.83" cy="847.93" r="2.45" fill="#000"/>
<circle cx="212.81" cy="834.43" r="2.45" fill="#000"/>
<circle cx="528.98" cy="833.56" r="2.45" fill="#000"/>
<circle cx="128.41" cy="824.34" r="2.45" fill="#000"/>
<circle cx="589.65" cy="823.43" r="2.45" fill="#000"/>
<circle cx="160.78" cy="864.10" r="2.45" fill="#000"/>
<circle cx="616.68" cy="863.36" r="2.45" fill="#000"/>
<circle cx="178.46" cy="823.29" r="2.45" fill="#000"/>
<circle cx="554.72" cy="822.37" r="2.45" fill="#000"/>
<circle cx="185.40" cy="891.67" r="2.45" fill="#000"/>
<circle cx="603.63" cy="891.04" r="2.45" fill="#000"/>
<circle cx="163.76" cy="890.46" r="2.45" fill="#000"/>
<circle cx="574.58" cy="889.83" r="2.45" fill="#000"/>
<circle cx="230.65" cy="856.27" r="2.45" fill="#000"/>
<circle cx="632.86" cy="855.49" r="2.45" fill="#000"/>
<circle cx="281.36" cy="878.26" r="2.45" fill="#000"/>
<circle cx="623.49" cy="877.58" r="2.45" fill="#000"/>
<circle cx="128.08" cy="867.27" r="2.45" fill="#000"/>
<circle cx="569.25" cy="866.53" r="2.45" fill="#000"/>
<circle cx="169.04" cy="839.70" r="2.45" fill="#000"/>
<circle cx="605.65" cy="838.86" r="2.45" fill="#000"/>
<circle cx="169.04" cy="887.15" r="2.45" fill="#000"/>
<circle cx="588.74" cy="886.50" r="2.45" fill="#000"/>
<circle cx="157.48" cy="810.78" r="2.45" fill="#000"/>
<circle cx="571.45" cy="809.82" r="2.45" fill="#000"/>
<circle cx="107.93" cy="831.42" r="2.45" fill="#000"/>
<circle cx="629.37" cy="830.54" r="2.45" fill="#000"/>
<circle cx="170.70" cy="894.83" r="2.45" fill="#000"/>
<circle cx="659.52" cy="894.21" r="2.45" fill="#000"/>
<circle cx="164.91" cy="865.31" r="2.45" fill="#000"/>
<circle cx="613.01" cy="864.57" r="2.45" fill="#000"/>
<circle cx="182.09" cy="846.03" r="2.45" fill="#000"/>
<circle cx="622.02" cy="845.21" r="2.45" fill="#000"/>
<circle cx="82.82" cy="765.60" r="2.45" fill="#000"/>
<circle cx="491.10" cy="764.44" r="2.45" fill="#000"/>
<circle cx="74.89" cy="707.91" r="2.45" fill="#000"/>
<circle cx="515.37" cy="706.52" r="2.45" fill="#000"/>
<circle cx="128.91" cy="768.31" r="2.45" fill="#000"/>
<circle cx="563.73" cy="767.17" r="2.45" fill="#000"/>
<circle cx="124.28" cy="812.74" r="2.45" fill="#000"/>
<circle cx="580.65" cy="811.78" r="2.45" fill="#000"/>
<circle cx="112.39" cy="753.25" r="2.45" fill="#000"/>
<circle cx="573.66" cy="752.04" r="2.45" fill="#000"/>
<circle cx="171.52" cy="876.30" r="2.45" fill="#000"/>
<circle cx="650.15" cy="875.61" r="2.45" fill="#000"/>
<circle cx="538.54" cy="810.57" r="2.45" fill="#000"/>
<circle cx="561.89" cy="779.57" r="2.45" fill="#000"/>
<circle cx="114.21" cy="809.13" r="2.45" fill="#000"/>
<circle cx="579.17" cy="808.15" r="2.45" fill="#000"/>
<circle cx="162.77" cy="854.31" r="2.45" fill="#000"/>
<circle cx="622.02" cy="853.53" r="2.45" fill="#000"/>
<circle cx="548.65" cy="795.75" r="2.45" fill="#000"/>
<circle cx="125.11" cy="862.15" r="2.45" fill="#000"/>
<circle cx="581.93" cy="861.39" r="2.45" fill="#000"/>
<circle cx="597.01" cy="855.04" r="2.45" fill="#000"/>
<circle cx="601.61" cy="860.33" r="2.45" fill="#000"/>
<circle cx="616.68" cy="850.20" r="2.45" fill="#000"/>
<circle cx="611.17" cy="853.53" r="2.45" fill="#000"/>
<circle cx="145.59" cy="863.65" r="2.45" fill="#000"/>
<circle cx="588.37" cy="862.90" r="2.45" fill="#000"/>
<circle cx="560.05" cy="846.72" r="2.45" fill="#000"/>
<circle cx="581.93" cy="816.78" r="2.45" fill="#000"/>
<circle cx="603.81" cy="874.25" r="2.45" fill="#000"/>
<circle cx="600.14" cy="826.45" r="2.45" fill="#000"/>
<circle cx="566.49" cy="839.31" r="2.45" fill="#000"/>
<circle cx="603.44" cy="856.85" r="2.45" fill="#000"/>
<circle cx="142.78" cy="826.60" r="2.45" fill="#000"/>
<circle cx="597.01" cy="825.70" r="2.45" fill="#000"/>
<circle cx="592.41" cy="841.13" r="2.45" fill="#000"/>
<circle cx="580.09" cy="835.53" r="2.45" fill="#000"/>
<circle cx="577.89" cy="847.93" r="2.45" fill="#000"/>
<text x="116.50" y="705.80" font-size="11.5" text-anchor="start" fill="#111" color="#111" >Lateral posterior</text>
<text x="77.90" y="714.20" font-size="11.5" text-anchor="start" fill="#111" color="#111" >Pretectal</text>
<text x="140.10" y="717.60" font-size="11.5" text-anchor="start" fill="#111" color="#111" >Lateral habenula</text>
<text x="139.30" y="727.30" font-size="11.5" text-anchor="start" fill="#111" color="#111" >Central lateral</text>
<text x="105.20" y="736.80" font-size="11.5" text-anchor="start" fill="#111" color="#111" >Posterior complex</text>
<text x="33.30" y="785.50" font-size="11.5" text-anchor="start" fill="#111" color="#111" >Periaqueductal gray</text>
<text x="192.90" y="850.40" font-size="11.5" text-anchor="start" fill="#111" color="#111" >Lateral hypothalamus</text>
<text x="49.60" y="876.40" font-size="11.5" text-anchor="start" fill="#111" color="#111" >Visual</text>
<text x="58.00" y="885.40" font-size="11.5" text-anchor="start" fill="#111" color="#111" >Posterior parietal</text>
<text x="33.50" y="907.00" font-size="11.5" text-anchor="start" fill="#111" color="#111" >Auditory</text>
<text x="88.90" y="910.20" font-size="11.5" text-anchor="start" fill="#111" color="#111" >Temporal association</text>
<text x="223.50" y="875.40" font-size="11.5" text-anchor="start" fill="#111" color="#111" >Prelimbic</text>
<text x="192.90" y="884.90" font-size="11.5" text-anchor="start" fill="#111" color="#111" >Lateral preoptic</text>
<text x="259.70" y="900.30" font-size="11.5" text-anchor="start" fill="#111" color="#111" >Anteroventral</text>
<text x="223.90" y="908.70" font-size="11.5" text-anchor="start" fill="#111" color="#111" >Anterior cingulate</text>
<text x="245.00" y="923.60" font-size="11.5" text-anchor="start" fill="#111" color="#111" >Infralimbic</text>
<text x="473.00" y="702.30" font-size="11.5" text-anchor="start" fill="#111" color="#111" >Lateral posterior</text>
<text x="397.60" y="717.60" font-size="11.5" text-anchor="start" fill="#111" color="#111" >Posterior complex</text>
<text x="476.40" y="728.10" font-size="11.5" text-anchor="start" fill="#111" color="#111" >Central lateral</text>
<text x="397.60" y="737.80" font-size="11.5" text-anchor="start" fill="#111" color="#111" >Ventral posteromedial</text>
<text x="472.50" y="751.60" font-size="11.5" text-anchor="start" fill="#111" color="#111" >Paracentral</text>
<text x="385.80" y="760.70" font-size="11.5" text-anchor="start" fill="#111" color="#111" >Lateral dorsal</text>
<text x="471.40" y="761.30" font-size="11.5" text-anchor="start" fill="#111" color="#111" >Interanterodorsal</text>
<text x="538.60" y="910.50" font-size="11.5" text-anchor="start" fill="#111" color="#111" >Somatosensory</text>
<text x="632.30" y="925.30" font-size="11.5" text-anchor="start" fill="#111" color="#111" >Infralimbic</text>
<text x="634.30" y="904.40" font-size="11.5" text-anchor="start" fill="#111" color="#111" >Anterior</text>
<text x="634.00" y="913.50" font-size="11.5" text-anchor="start" fill="#111" color="#111" >cingulate</text>
<text x="311.20" y="872.40" font-size="11.5" text-anchor="middle" fill="#111" color="#111" >Medial</text>
<text x="311.40" y="880.80" font-size="11.5" text-anchor="middle" fill="#111" color="#111" >preoptic</text>
<text x="655.50" y="836.80" font-size="11.5" text-anchor="middle" fill="#111" color="#111" >Ventral</text>
<text x="655.50" y="846.00" font-size="11.5" text-anchor="middle" fill="#111" color="#111" >tegmental</text>
<text x="655.50" y="855.00" font-size="11.5" text-anchor="middle" fill="#111" color="#111" >area</text>
<line x1="99.40" y1="727.30" x2="104.70" y2="730.20" stroke="#000" stroke-width="1.0" />
<line x1="83.00" y1="769.30" x2="85.20" y2="775.20" stroke="#000" stroke-width="1.0" />
<line x1="225.70" y1="852.00" x2="229.10" y2="854.20" stroke="#000" stroke-width="1.0" />
<line x1="44.20" y1="888.90" x2="46.00" y2="899.50" stroke="#000" stroke-width="1.0" />
<line x1="62.70" y1="890.10" x2="67.10" y2="887.20" stroke="#000" stroke-width="1.0" />
<line x1="274.40" y1="882.00" x2="280.00" y2="879.90" stroke="#000" stroke-width="1.0" />
<line x1="221.90" y1="898.90" x2="225.70" y2="901.90" stroke="#000" stroke-width="1.0" />
<line x1="397.10" y1="721.80" x2="401.00" y2="718.30" stroke="#000" stroke-width="1.0" />
<line x1="424.40" y1="739.90" x2="427.80" y2="743.90" stroke="#000" stroke-width="1.0" />
<line x1="401.30" y1="749.90" x2="403.40" y2="753.10" stroke="#000" stroke-width="1.0" />
<line x1="625.30" y1="844.10" x2="629.90" y2="843.40" stroke="#000" stroke-width="1.0" />
<line x1="619.40" y1="901.50" x2="625.00" y2="890.20" stroke="#000" stroke-width="1.0" />
</svg>
</body></html>
